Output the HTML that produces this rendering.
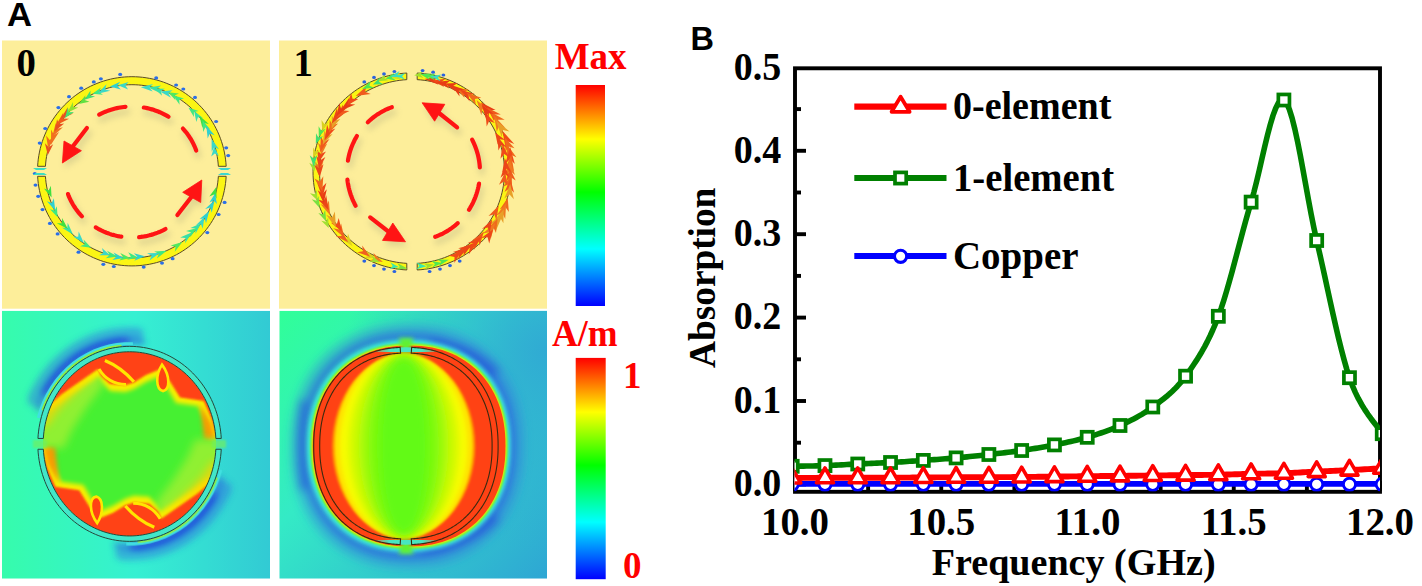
<!DOCTYPE html><html><head><meta charset="utf-8"><style>
html,body{margin:0;padding:0;background:#fff;width:1422px;height:586px;overflow:hidden}
svg{display:block}
.tk{font-family:"Liberation Serif",serif;font-weight:bold;font-size:39.5px;fill:#000}
.ti{font-family:"Liberation Serif",serif;font-weight:bold;font-size:38.5px;fill:#000}
.lg{font-family:"Liberation Serif",serif;font-weight:bold;font-size:39.5px;fill:#000}
.rd{font-family:"Liberation Serif",serif;font-weight:bold;font-size:37px;fill:#f00}
.bk{font-family:"Liberation Serif",serif;font-weight:bold;font-size:40px;fill:#000}
.lbl{font-family:"Liberation Sans",sans-serif;font-weight:bold;font-size:32.5px;fill:#000}
</style></head><body><svg width="1422" height="586" viewBox="0 0 1422 586"><defs><filter id="shb" x="-20%" y="-20%" width="140%" height="140%"><feGaussianBlur stdDeviation="3"/></filter><filter id="b05" x="-20%" y="-20%" width="140%" height="140%"><feGaussianBlur stdDeviation="0.6"/></filter><filter id="b1" x="-20%" y="-20%" width="140%" height="140%"><feGaussianBlur stdDeviation="1"/></filter><filter id="b2" x="-30%" y="-30%" width="160%" height="160%"><feGaussianBlur stdDeviation="2"/></filter><filter id="b3" x="-30%" y="-30%" width="160%" height="160%"><feGaussianBlur stdDeviation="3"/></filter><filter id="b4" x="-30%" y="-30%" width="160%" height="160%"><feGaussianBlur stdDeviation="4"/></filter><filter id="b8" x="-30%" y="-30%" width="160%" height="160%"><feGaussianBlur stdDeviation="8"/></filter><clipPath id="cTL"><rect x="2" y="40.5" width="268" height="268.2"/></clipPath><clipPath id="cTR"><rect x="279" y="40.5" width="268" height="268.2"/></clipPath><clipPath id="cBL"><rect x="2" y="310.7" width="268" height="268"/></clipPath><clipPath id="cBR"><rect x="279.5" y="310.7" width="267.5" height="268"/></clipPath></defs><rect x="2" y="40.5" width="268" height="268.2" fill="#fdee9a"/><rect x="279" y="40.5" width="268" height="268.2" fill="#fdee9a"/><path d="M226.17,166.30 L225.91,162.72 L225.52,159.15 L224.99,155.60 L224.33,152.07 L223.54,148.57 L222.61,145.11 L221.55,141.68 L220.37,138.29 L219.05,134.95 L217.61,131.66 L216.05,128.43 L214.37,125.26 L212.57,122.16 L210.65,119.13 L208.61,116.17 L206.47,113.30 L204.22,110.50 L201.87,107.80 L199.41,105.18 L196.86,102.66 L194.22,100.24 L191.48,97.92 L188.66,95.71 L185.76,93.61 L182.78,91.62 L179.73,89.74 L176.60,87.98 L173.42,86.34 L170.17,84.82 L166.87,83.43 L163.52,82.16 L160.12,81.03 L156.68,80.02 L153.21,79.14 L149.70,78.40 L146.17,77.79 L142.62,77.31 L139.06,76.97 L135.48,76.77 L131.90,76.70 L128.32,76.77 L124.74,76.97 L121.18,77.31 L117.63,77.79 L114.10,78.40 L110.59,79.14 L107.12,80.02 L103.68,81.03 L100.28,82.16 L96.93,83.43 L93.63,84.82 L90.38,86.34 L87.20,87.98 L84.07,89.74 L81.02,91.62 L78.04,93.61 L75.14,95.71 L72.32,97.92 L69.58,100.24 L66.94,102.66 L64.39,105.18 L61.93,107.80 L59.58,110.50 L57.33,113.30 L55.19,116.17 L53.15,119.13 L51.23,122.16 L49.43,125.26 L47.75,128.43 L46.19,131.66 L44.75,134.95 L43.43,138.29 L42.25,141.68 L41.19,145.11 L40.26,148.57 L39.47,152.07 L38.81,155.60 L38.28,159.15 L37.89,162.72 L37.63,166.30 L45.44,166.30 L45.70,163.03 L46.07,159.78 L46.57,156.54 L47.19,153.33 L47.93,150.14 L48.79,146.97 L49.77,143.85 L50.86,140.76 L52.08,137.72 L53.40,134.73 L54.84,131.78 L56.39,128.90 L58.05,126.07 L59.81,123.31 L61.68,120.62 L63.65,118.00 L65.71,115.46 L67.87,112.99 L70.12,110.61 L72.46,108.32 L74.88,106.12 L77.39,104.01 L79.97,102.00 L82.63,100.08 L85.36,98.27 L88.15,96.56 L91.01,94.96 L93.93,93.47 L96.90,92.09 L99.92,90.82 L102.98,89.67 L106.09,88.63 L109.24,87.72 L112.41,86.92 L115.62,86.24 L118.85,85.69 L122.09,85.26 L125.35,84.95 L128.63,84.76 L131.90,84.70 L135.17,84.76 L138.45,84.95 L141.71,85.26 L144.95,85.69 L148.18,86.24 L151.39,86.92 L154.56,87.72 L157.71,88.63 L160.82,89.67 L163.88,90.82 L166.90,92.09 L169.87,93.47 L172.79,94.96 L175.65,96.56 L178.44,98.27 L181.17,100.08 L183.83,102.00 L186.41,104.01 L188.92,106.12 L191.34,108.32 L193.68,110.61 L195.93,112.99 L198.09,115.46 L200.15,118.00 L202.12,120.62 L203.99,123.31 L205.75,126.07 L207.41,128.90 L208.96,131.78 L210.40,134.73 L211.72,137.72 L212.94,140.76 L214.03,143.85 L215.01,146.97 L215.87,150.14 L216.61,153.33 L217.23,156.54 L217.73,159.78 L218.10,163.03 L218.36,166.30Z" fill="#fbf514" stroke="#5a4a28" stroke-width="1"/><path d="M226.17,176.30 L225.91,179.88 L225.52,183.45 L224.99,187.00 L224.33,190.53 L223.54,194.03 L222.61,197.49 L221.55,200.92 L220.37,204.31 L219.05,207.65 L217.61,210.94 L216.05,214.17 L214.37,217.34 L212.57,220.44 L210.65,223.47 L208.61,226.43 L206.47,229.30 L204.22,232.10 L201.87,234.80 L199.41,237.42 L196.86,239.94 L194.22,242.36 L191.48,244.68 L188.66,246.89 L185.76,248.99 L182.78,250.98 L179.73,252.86 L176.60,254.62 L173.42,256.26 L170.17,257.78 L166.87,259.17 L163.52,260.44 L160.12,261.57 L156.68,262.58 L153.21,263.46 L149.70,264.20 L146.17,264.81 L142.62,265.29 L139.06,265.63 L135.48,265.83 L131.90,265.90 L128.32,265.83 L124.74,265.63 L121.18,265.29 L117.63,264.81 L114.10,264.20 L110.59,263.46 L107.12,262.58 L103.68,261.57 L100.28,260.44 L96.93,259.17 L93.63,257.78 L90.38,256.26 L87.20,254.62 L84.07,252.86 L81.02,250.98 L78.04,248.99 L75.14,246.89 L72.32,244.68 L69.58,242.36 L66.94,239.94 L64.39,237.42 L61.93,234.80 L59.58,232.10 L57.33,229.30 L55.19,226.43 L53.15,223.47 L51.23,220.44 L49.43,217.34 L47.75,214.17 L46.19,210.94 L44.75,207.65 L43.43,204.31 L42.25,200.92 L41.19,197.49 L40.26,194.03 L39.47,190.53 L38.81,187.00 L38.28,183.45 L37.89,179.88 L37.63,176.30 L45.44,176.30 L45.70,179.57 L46.07,182.82 L46.57,186.06 L47.19,189.27 L47.93,192.46 L48.79,195.63 L49.77,198.75 L50.86,201.84 L52.08,204.88 L53.40,207.87 L54.84,210.82 L56.39,213.70 L58.05,216.53 L59.81,219.29 L61.68,221.98 L63.65,224.60 L65.71,227.14 L67.87,229.61 L70.12,231.99 L72.46,234.28 L74.88,236.48 L77.39,238.59 L79.97,240.60 L82.63,242.52 L85.36,244.33 L88.15,246.04 L91.01,247.64 L93.93,249.13 L96.90,250.51 L99.92,251.78 L102.98,252.93 L106.09,253.97 L109.24,254.88 L112.41,255.68 L115.62,256.36 L118.85,256.91 L122.09,257.34 L125.35,257.65 L128.63,257.84 L131.90,257.90 L135.17,257.84 L138.45,257.65 L141.71,257.34 L144.95,256.91 L148.18,256.36 L151.39,255.68 L154.56,254.88 L157.71,253.97 L160.82,252.93 L163.88,251.78 L166.90,250.51 L169.87,249.13 L172.79,247.64 L175.65,246.04 L178.44,244.33 L181.17,242.52 L183.83,240.60 L186.41,238.59 L188.92,236.48 L191.34,234.28 L193.68,231.99 L195.93,229.61 L198.09,227.14 L200.15,224.60 L202.12,221.98 L203.99,219.29 L205.75,216.53 L207.41,213.70 L208.96,210.82 L210.40,207.87 L211.72,204.88 L212.94,201.84 L214.03,198.75 L215.01,195.63 L215.87,192.46 L216.61,189.27 L217.23,186.06 L217.73,182.82 L218.10,179.57 L218.36,176.30Z" fill="#fbf514" stroke="#5a4a28" stroke-width="1"/><path d="M47.8,155.0 L44.9,143.3 L48.7,147.2 L53.2,144.3 Z" fill="#e85020"/><path d="M48.3,149.0 L46.1,135.4 L49.7,139.9 L54.4,136.7 Z" fill="#f07020"/><path d="M51.0,144.8 L51.1,129.5 L53.9,134.9 L59.1,131.9 Z" fill="#f07020"/><path d="M52.2,137.0 L55.7,122.9 L57.2,128.7 L62.9,127.2 Z" fill="#f07020"/><path d="M54.5,131.4 L57.1,119.2 L58.8,124.3 L64.2,123.5 Z" fill="#e85020"/><path d="M55.9,125.6 L63.3,112.6 L63.1,118.6 L69.1,118.7 Z" fill="#f05a1a"/><path d="M60.6,118.9 L67.7,107.2 L67.5,112.9 L73.2,113.5 Z" fill="#e85020"/><path d="M65.0,118.1 L67.8,107.6 L69.2,112.3 L74.0,112.0 Z" fill="#40e070"/><path d="M67.3,112.7 L73.0,102.0 L73.1,107.1 L78.2,107.5 Z" fill="#90e030"/><path d="M78.7,103.9 L85.4,95.3 L84.8,100.1 L89.4,101.8 Z" fill="#60e040"/><path d="M84.5,99.8 L90.5,90.5 L90.3,95.4 L95.1,96.5 Z" fill="#40e070"/><path d="M92.5,93.7 L100.9,87.5 L99.1,91.9 L102.9,94.8 Z" fill="#40e880"/><path d="M97.5,93.7 L106.5,84.2 L105.1,89.4 L110.3,90.8 Z" fill="#3ad8c8"/><path d="M109.9,86.4 L120.2,81.8 L117.3,85.8 L120.8,89.4 Z" fill="#30d0d0"/><path d="M118.1,85.2 L128.6,82.0 L125.3,85.6 L128.1,89.6 Z" fill="#3ad8c8"/><path d="M140.9,87.3 L153.0,84.0 L149.3,87.6 L152.7,91.6 Z" fill="#3ad8c8"/><path d="M148.4,87.6 L161.2,85.6 L157.0,88.8 L160.1,93.1 Z" fill="#38e0a8"/><path d="M154.4,88.5 L164.9,88.8 L160.8,91.1 L162.0,95.8 Z" fill="#38e0a8"/><path d="M160.0,91.4 L172.6,90.3 L168.3,93.2 L171.0,97.7 Z" fill="#3ad8c8"/><path d="M168.2,92.2 L179.0,93.5 L174.5,95.4 L175.5,100.2 Z" fill="#50e860"/><path d="M173.0,95.3 L184.0,98.5 L179.2,99.7 L179.6,104.7 Z" fill="#40e880"/><path d="M188.5,107.7 L198.7,111.0 L193.9,112.1 L193.9,116.9 Z" fill="#40e880"/><path d="M194.2,111.0 L202.8,117.9 L197.9,117.3 L196.3,121.9 Z" fill="#38e0a8"/><path d="M199.4,115.7 L208.9,123.9 L203.8,122.9 L202.4,127.9 Z" fill="#40e040"/><path d="M202.4,120.3 L210.1,129.3 L205.3,127.5 L203.1,132.1 Z" fill="#40e880"/><path d="M206.3,125.8 L214.7,135.3 L209.7,133.5 L207.7,138.4 Z" fill="#30d0d0"/><path d="M211.6,138.9 L219.0,149.3 L214.2,147.0 L211.7,151.7 Z" fill="#3ad8c8"/><path d="M214.3,146.6 L218.8,156.1 L214.8,153.5 L211.2,156.6 Z" fill="#3ad8c8"/><path d="M216.3,186.9 L216.6,198.7 L214.0,194.4 L209.3,196.5 Z" fill="#40e040"/><path d="M215.1,193.6 L216.9,204.1 L213.7,200.4 L209.4,202.6 Z" fill="#30d0d0"/><path d="M214.6,200.2 L211.7,212.7 L210.3,207.6 L205.1,208.9 Z" fill="#30d0d0"/><path d="M209.2,211.1 L206.0,223.2 L204.7,218.2 L199.6,219.1 Z" fill="#30d0d0"/><path d="M204.4,217.0 L202.7,228.7 L200.9,224.0 L195.9,225.3 Z" fill="#3ad8c8"/><path d="M201.1,223.2 L195.6,233.6 L195.4,228.5 L190.4,228.0 Z" fill="#38e0a8"/><path d="M197.0,228.0 L190.2,237.2 L190.8,232.3 L186.0,231.0 Z" fill="#40e880"/><path d="M192.1,232.2 L185.1,243.3 L185.5,238.0 L180.1,237.6 Z" fill="#38e0a8"/><path d="M182.4,242.1 L174.8,251.8 L175.6,246.7 L170.6,245.4 Z" fill="#50e860"/><path d="M166.7,250.7 L156.9,258.6 L158.9,253.8 L154.1,251.6 Z" fill="#40e880"/><path d="M159.8,252.9 L149.5,260.4 L151.7,255.6 L147.0,253.2 Z" fill="#3ad8c8"/><path d="M144.9,256.2 L134.3,260.8 L137.3,256.7 L133.8,253.2 Z" fill="#30d0d0"/><path d="M138.1,257.5 L127.2,259.8 L130.8,256.5 L128.2,252.3 Z" fill="#40e880"/><path d="M130.2,258.0 L119.4,260.5 L122.9,257.1 L120.3,253.0 Z" fill="#50e860"/><path d="M123.6,258.0 L112.4,260.0 L116.2,256.8 L113.6,252.5 Z" fill="#30d0d0"/><path d="M117.7,256.5 L105.7,258.3 L109.8,255.1 L107.0,250.8 Z" fill="#40e880"/><path d="M110.1,255.3 L99.2,255.2 L103.4,252.7 L101.9,248.1 Z" fill="#3ad8c8"/><path d="M91.2,247.8 L80.1,246.3 L84.7,244.3 L83.6,239.5 Z" fill="#40e880"/><path d="M83.8,243.1 L73.0,236.5 L78.2,236.7 L78.7,231.5 Z" fill="#3ad8c8"/><path d="M73.0,234.5 L62.0,227.7 L67.3,228.0 L67.7,222.7 Z" fill="#38e0a8"/><path d="M67.9,229.1 L56.8,223.3 L62.0,223.2 L62.1,218.0 Z" fill="#40e040"/><path d="M57.6,217.3 L50.0,209.3 L54.7,210.6 L56.9,206.3 Z" fill="#40e880"/><path d="M55.3,210.7 L46.9,201.3 L51.8,203.0 L53.8,198.2 Z" fill="#30d0d0"/><path d="M51.6,197.4 L43.9,188.5 L48.7,190.2 L50.9,185.7 Z" fill="#40e040"/><ellipse cx="34.8" cy="173.5" rx="2" ry="1.6" fill="#2a6ee8"/><ellipse cx="39.7" cy="143.1" rx="2" ry="1.6" fill="#2a6ee8"/><ellipse cx="45.2" cy="128.5" rx="2" ry="1.6" fill="#2a6ee8"/><ellipse cx="58.4" cy="107.6" rx="2" ry="1.6" fill="#2a6ee8"/><ellipse cx="69.0" cy="96.7" rx="2" ry="1.6" fill="#2a6ee8"/><ellipse cx="81.2" cy="88.2" rx="2" ry="1.6" fill="#2a6ee8"/><ellipse cx="93.8" cy="81.9" rx="2" ry="1.6" fill="#2a6ee8"/><ellipse cx="100.9" cy="78.8" rx="2" ry="1.6" fill="#2a6ee8"/><ellipse cx="120.2" cy="74.4" rx="2" ry="1.6" fill="#2a6ee8"/><ellipse cx="156.2" cy="77.9" rx="2" ry="1.6" fill="#2a6ee8"/><ellipse cx="176.1" cy="85.0" rx="2" ry="1.6" fill="#2a6ee8"/><ellipse cx="183.3" cy="89.0" rx="2" ry="1.6" fill="#2a6ee8"/><ellipse cx="195.0" cy="97.4" rx="2" ry="1.6" fill="#2a6ee8"/><ellipse cx="216.1" cy="121.5" rx="2" ry="1.6" fill="#2a6ee8"/><ellipse cx="226.2" cy="147.8" rx="2" ry="1.6" fill="#2a6ee8"/><ellipse cx="228.2" cy="155.6" rx="2" ry="1.6" fill="#2a6ee8"/><ellipse cx="224.6" cy="202.4" rx="2" ry="1.6" fill="#2a6ee8"/><ellipse cx="218.6" cy="214.5" rx="2" ry="1.6" fill="#2a6ee8"/><ellipse cx="207.3" cy="232.6" rx="2" ry="1.6" fill="#2a6ee8"/><ellipse cx="172.6" cy="258.7" rx="2" ry="1.6" fill="#2a6ee8"/><ellipse cx="162.0" cy="263.1" rx="2" ry="1.6" fill="#2a6ee8"/><ellipse cx="143.7" cy="267.1" rx="2" ry="1.6" fill="#2a6ee8"/><ellipse cx="113.8" cy="266.5" rx="2" ry="1.6" fill="#2a6ee8"/><ellipse cx="103.3" cy="264.3" rx="2" ry="1.6" fill="#2a6ee8"/><ellipse cx="78.5" cy="252.2" rx="2" ry="1.6" fill="#2a6ee8"/><ellipse cx="57.6" cy="233.9" rx="2" ry="1.6" fill="#2a6ee8"/><ellipse cx="49.9" cy="223.4" rx="2" ry="1.6" fill="#2a6ee8"/><ellipse cx="42.5" cy="209.6" rx="2" ry="1.6" fill="#2a6ee8"/><ellipse cx="38.2" cy="196.3" rx="2" ry="1.6" fill="#2a6ee8"/><ellipse cx="35.5" cy="185.1" rx="2" ry="1.6" fill="#2a6ee8"/><path d="M33,168 L47,168 L44,170 L36,170Z M33,175 L47,175 L44,173 L36,173Z" fill="#3ce0c0"/><path d="M218,168 L231,168 L228,170 L221,170Z M218,175 L231,175 L228,173 L221,173Z" fill="#3cd8d0"/><g filter="url(#shb)" opacity="0.3" transform="translate(2,5)"><path d="M99.14,114.66 L100.67,113.87 L102.22,113.12 L103.79,112.40 L105.38,111.73 L106.98,111.09 L108.60,110.50 L110.24,109.94 L111.89,109.43 L113.56,108.96 L115.23,108.52 L116.92,108.13 L118.62,107.78 L120.32,107.47 L122.04,107.21 L123.76,106.98 L125.48,106.80 M143.81,107.50 L145.45,107.79 L147.08,108.13 L148.70,108.51 L150.32,108.92 L151.92,109.37 L153.51,109.86 L155.08,110.39 L156.65,110.95 L158.19,111.55 L159.73,112.19 L161.24,112.87 L162.74,113.57 L164.22,114.32 L165.68,115.10 L167.12,115.91 L168.54,116.76 M182.93,128.60 L184.01,129.80 L185.06,131.04 L186.08,132.29 L187.07,133.57 L188.02,134.87 L188.94,136.19 L189.83,137.54 L190.68,138.90 L191.50,140.29 L192.28,141.69 L193.03,143.11 L193.74,144.55 L194.42,146.01 L195.05,147.48 L195.65,148.96 L196.22,150.46 M81.95,216.34 L80.81,215.12 L79.71,213.87 L78.64,212.60 L77.60,211.30 L76.60,209.98 L75.63,208.64 L74.70,207.27 L73.80,205.88 L72.94,204.47 L72.12,203.04 L71.33,201.59 L70.59,200.12 L69.88,198.63 L69.20,197.13 L68.57,195.61 L67.98,194.08 M121.36,236.69 L119.67,236.41 L117.98,236.09 L116.30,235.73 L114.63,235.33 L112.97,234.88 L111.33,234.40 L109.69,233.88 L108.07,233.31 L106.47,232.71 L104.89,232.07 L103.32,231.39 L101.76,230.67 L100.23,229.91 L98.72,229.12 L97.23,228.29 L95.76,227.43 M165.48,229.01 L163.96,229.82 L162.41,230.59 L160.84,231.32 L159.25,232.01 L157.65,232.66 L156.02,233.28 L154.38,233.85 L152.73,234.38 L151.06,234.87 L149.38,235.32 L147.69,235.73 L145.99,236.10 L144.28,236.42 L142.56,236.70 L140.84,236.94 L139.11,237.14 M86.90,128.00 L70.64,149.28 M177.40,215.00 L193.72,193.92" fill="none" stroke="#9a9a78" stroke-width="6.2" stroke-linecap="round"/><path d="M62.40,163.00 L64.00,141.00 L81.40,150.70 Z M201.80,180.00 L182.70,192.30 L200.70,202.50 Z" fill="#9a9a78"/></g><path d="M99.14,114.66 L100.67,113.87 L102.22,113.12 L103.79,112.40 L105.38,111.73 L106.98,111.09 L108.60,110.50 L110.24,109.94 L111.89,109.43 L113.56,108.96 L115.23,108.52 L116.92,108.13 L118.62,107.78 L120.32,107.47 L122.04,107.21 L123.76,106.98 L125.48,106.80 M143.81,107.50 L145.45,107.79 L147.08,108.13 L148.70,108.51 L150.32,108.92 L151.92,109.37 L153.51,109.86 L155.08,110.39 L156.65,110.95 L158.19,111.55 L159.73,112.19 L161.24,112.87 L162.74,113.57 L164.22,114.32 L165.68,115.10 L167.12,115.91 L168.54,116.76 M182.93,128.60 L184.01,129.80 L185.06,131.04 L186.08,132.29 L187.07,133.57 L188.02,134.87 L188.94,136.19 L189.83,137.54 L190.68,138.90 L191.50,140.29 L192.28,141.69 L193.03,143.11 L193.74,144.55 L194.42,146.01 L195.05,147.48 L195.65,148.96 L196.22,150.46 M81.95,216.34 L80.81,215.12 L79.71,213.87 L78.64,212.60 L77.60,211.30 L76.60,209.98 L75.63,208.64 L74.70,207.27 L73.80,205.88 L72.94,204.47 L72.12,203.04 L71.33,201.59 L70.59,200.12 L69.88,198.63 L69.20,197.13 L68.57,195.61 L67.98,194.08 M121.36,236.69 L119.67,236.41 L117.98,236.09 L116.30,235.73 L114.63,235.33 L112.97,234.88 L111.33,234.40 L109.69,233.88 L108.07,233.31 L106.47,232.71 L104.89,232.07 L103.32,231.39 L101.76,230.67 L100.23,229.91 L98.72,229.12 L97.23,228.29 L95.76,227.43 M165.48,229.01 L163.96,229.82 L162.41,230.59 L160.84,231.32 L159.25,232.01 L157.65,232.66 L156.02,233.28 L154.38,233.85 L152.73,234.38 L151.06,234.87 L149.38,235.32 L147.69,235.73 L145.99,236.10 L144.28,236.42 L142.56,236.70 L140.84,236.94 L139.11,237.14 M86.90,128.00 L70.64,149.28 M177.40,215.00 L193.72,193.92" fill="none" stroke="#ff1414" stroke-width="4.2" stroke-linecap="round"/><path d="M62.40,163.00 L64.00,141.00 L81.40,150.70 Z M201.80,180.00 L182.70,192.30 L200.70,202.50 Z" fill="#ff1414" stroke="#ff1414" stroke-width="0.8" stroke-linejoin="round"/><path d="M406.80,73.04 L403.05,73.30 L399.32,73.71 L395.60,74.26 L391.91,74.95 L388.24,75.78 L384.61,76.75 L381.02,77.85 L377.48,79.09 L373.98,80.46 L370.54,81.96 L367.16,83.59 L363.84,85.35 L360.59,87.23 L357.42,89.24 L354.33,91.36 L351.31,93.60 L348.39,95.95 L345.56,98.41 L342.82,100.97 L340.18,103.64 L337.65,106.40 L335.22,109.26 L332.90,112.20 L330.70,115.23 L328.62,118.35 L326.65,121.54 L324.81,124.80 L323.09,128.13 L321.50,131.52 L320.05,134.97 L318.72,138.47 L317.53,142.02 L316.47,145.61 L315.56,149.24 L314.78,152.90 L314.14,156.59 L313.64,160.30 L313.29,164.02 L313.07,167.76 L313.00,171.50 L313.07,175.24 L313.29,178.98 L313.64,182.70 L314.14,186.41 L314.78,190.10 L315.56,193.76 L316.47,197.39 L317.53,200.98 L318.72,204.53 L320.05,208.03 L321.50,211.48 L323.09,214.87 L324.81,218.20 L326.65,221.46 L328.62,224.65 L330.70,227.77 L332.90,230.80 L335.22,233.74 L337.65,236.60 L340.18,239.36 L342.82,242.03 L345.56,244.59 L348.39,247.05 L351.31,249.40 L354.33,251.64 L357.42,253.76 L360.59,255.77 L363.84,257.65 L367.16,259.41 L370.54,261.04 L373.98,262.54 L377.48,263.91 L381.02,265.15 L384.61,266.25 L388.24,267.22 L391.91,268.05 L395.60,268.74 L399.32,269.29 L403.05,269.70 L406.80,269.96 L406.80,263.35 L403.31,263.09 L399.83,262.70 L396.37,262.18 L392.93,261.52 L389.51,260.74 L386.13,259.83 L382.79,258.79 L379.49,257.63 L376.23,256.34 L373.03,254.94 L369.88,253.41 L366.79,251.77 L363.77,250.01 L360.82,248.13 L357.94,246.15 L355.14,244.06 L352.41,241.87 L349.78,239.58 L347.23,237.18 L344.78,234.70 L342.42,232.12 L340.16,229.46 L338.01,226.71 L335.96,223.89 L334.02,220.99 L332.19,218.02 L330.48,214.98 L328.89,211.88 L327.41,208.72 L326.05,205.51 L324.82,202.25 L323.71,198.94 L322.73,195.60 L321.88,192.22 L321.15,188.81 L320.56,185.38 L320.10,181.93 L319.77,178.46 L319.57,174.98 L319.50,171.50 L319.57,168.02 L319.77,164.54 L320.10,161.07 L320.56,157.62 L321.15,154.19 L321.88,150.78 L322.73,147.40 L323.71,144.06 L324.82,140.75 L326.05,137.49 L327.41,134.28 L328.89,131.12 L330.48,128.02 L332.19,124.98 L334.02,122.01 L335.96,119.11 L338.01,116.29 L340.16,113.54 L342.42,110.88 L344.78,108.30 L347.23,105.82 L349.78,103.42 L352.41,101.13 L355.14,98.94 L357.94,96.85 L360.82,94.87 L363.77,92.99 L366.79,91.23 L369.88,89.59 L373.03,88.06 L376.23,86.66 L379.49,85.37 L382.79,84.21 L386.13,83.17 L389.51,82.26 L392.93,81.48 L396.37,80.82 L399.83,80.30 L403.31,79.91 L406.80,79.65Z" fill="#fbf514" stroke="#5a4a28" stroke-width="1"/><path d="M417.20,73.04 L420.95,73.30 L424.68,73.71 L428.40,74.26 L432.09,74.95 L435.76,75.78 L439.39,76.75 L442.98,77.85 L446.52,79.09 L450.02,80.46 L453.46,81.96 L456.84,83.59 L460.16,85.35 L463.41,87.23 L466.58,89.24 L469.67,91.36 L472.69,93.60 L475.61,95.95 L478.44,98.41 L481.18,100.97 L483.82,103.64 L486.35,106.40 L488.78,109.26 L491.10,112.20 L493.30,115.23 L495.38,118.35 L497.35,121.54 L499.19,124.80 L500.91,128.13 L502.50,131.52 L503.95,134.97 L505.28,138.47 L506.47,142.02 L507.53,145.61 L508.44,149.24 L509.22,152.90 L509.86,156.59 L510.36,160.30 L510.71,164.02 L510.93,167.76 L511.00,171.50 L510.93,175.24 L510.71,178.98 L510.36,182.70 L509.86,186.41 L509.22,190.10 L508.44,193.76 L507.53,197.39 L506.47,200.98 L505.28,204.53 L503.95,208.03 L502.50,211.48 L500.91,214.87 L499.19,218.20 L497.35,221.46 L495.38,224.65 L493.30,227.77 L491.10,230.80 L488.78,233.74 L486.35,236.60 L483.82,239.36 L481.18,242.03 L478.44,244.59 L475.61,247.05 L472.69,249.40 L469.67,251.64 L466.58,253.76 L463.41,255.77 L460.16,257.65 L456.84,259.41 L453.46,261.04 L450.02,262.54 L446.52,263.91 L442.98,265.15 L439.39,266.25 L435.76,267.22 L432.09,268.05 L428.40,268.74 L424.68,269.29 L420.95,269.70 L417.20,269.96 L417.20,263.35 L420.69,263.09 L424.17,262.70 L427.63,262.18 L431.07,261.52 L434.49,260.74 L437.87,259.83 L441.21,258.79 L444.51,257.63 L447.77,256.34 L450.97,254.94 L454.12,253.41 L457.21,251.77 L460.23,250.01 L463.18,248.13 L466.06,246.15 L468.86,244.06 L471.59,241.87 L474.22,239.58 L476.77,237.18 L479.22,234.70 L481.58,232.12 L483.84,229.46 L485.99,226.71 L488.04,223.89 L489.98,220.99 L491.81,218.02 L493.52,214.98 L495.11,211.88 L496.59,208.72 L497.95,205.51 L499.18,202.25 L500.29,198.94 L501.27,195.60 L502.12,192.22 L502.85,188.81 L503.44,185.38 L503.90,181.93 L504.23,178.46 L504.43,174.98 L504.50,171.50 L504.43,168.02 L504.23,164.54 L503.90,161.07 L503.44,157.62 L502.85,154.19 L502.12,150.78 L501.27,147.40 L500.29,144.06 L499.18,140.75 L497.95,137.49 L496.59,134.28 L495.11,131.12 L493.52,128.02 L491.81,124.98 L489.98,122.01 L488.04,119.11 L485.99,116.29 L483.84,113.54 L481.58,110.88 L479.22,108.30 L476.77,105.82 L474.22,103.42 L471.59,101.13 L468.86,98.94 L466.06,96.85 L463.18,94.87 L460.23,92.99 L457.21,91.23 L454.12,89.59 L450.97,88.06 L447.77,86.66 L444.51,85.37 L441.21,84.21 L437.87,83.17 L434.49,82.26 L431.07,81.48 L427.63,80.82 L424.17,80.30 L420.69,79.91 L417.20,79.65Z" fill="#fbf514" stroke="#5a4a28" stroke-width="1"/><path d="M318.6,175.4 L314.2,161.2 L318.8,165.5 L323.4,161.4 Z" fill="#f07a20"/><path d="M319.1,169.0 L316.3,155.8 L320.3,160.2 L325.4,157.1 Z" fill="#ec4618"/><path d="M318.7,162.2 L317.1,149.4 L320.7,154.0 L326.0,151.6 Z" fill="#ec4618"/><path d="M321.4,155.1 L318.0,142.7 L322.2,146.8 L327.2,143.6 Z" fill="#f07a20"/><path d="M320.2,151.9 L320.8,136.1 L323.7,141.9 L329.5,139.1 Z" fill="#f05a1c"/><path d="M322.7,144.8 L324.3,130.2 L326.7,135.9 L332.6,134.0 Z" fill="#e8a028"/><path d="M324.5,140.6 L327.1,124.4 L329.2,130.7 L335.4,128.4 Z" fill="#f04a18"/><path d="M329.0,132.7 L329.7,119.7 L332.4,124.9 L338.1,123.4 Z" fill="#f06a1c"/><path d="M331.7,128.4 L331.8,115.5 L334.7,120.6 L340.3,118.9 Z" fill="#e8a028"/><path d="M331.5,123.7 L336.9,108.0 L338.0,114.5 L344.5,113.2 Z" fill="#ec4618"/><path d="M336.9,117.3 L342.8,104.6 L343.4,110.6 L349.4,111.0 Z" fill="#f05a1c"/><path d="M314.2,171.8 L309.3,162.8 L313.4,165.2 L316.8,161.9 Z" fill="#a0e030"/><path d="M313.8,166.8 L309.7,155.2 L313.6,158.6 L317.3,155.0 Z" fill="#40e070"/><path d="M313.1,157.6 L313.2,147.5 L315.6,151.5 L320.2,150.4 Z" fill="#d8d020"/><path d="M315.8,143.7 L316.0,133.3 L318.4,137.4 L323.0,136.2 Z" fill="#40e070"/><path d="M318.8,137.2 L318.6,126.2 L321.1,130.4 L325.8,128.7 Z" fill="#50e850"/><path d="M322.3,131.2 L321.5,120.0 L324.3,124.0 L328.8,122.0 Z" fill="#d8d020"/><path d="M336.4,116.3 L339.3,103.2 L341.1,108.8 L347.0,108.1 Z" fill="#e83c14"/><path d="M340.1,111.0 L349.4,97.4 L348.6,103.9 L355.2,104.5 Z" fill="#e83c14"/><path d="M347.1,105.4 L351.2,93.1 L352.5,98.8 L358.3,98.9 Z" fill="#f04a18"/><path d="M355.7,95.9 L366.9,85.7 L364.9,91.7 L370.7,94.1 Z" fill="#f05a1c"/><path d="M362.1,88.9 L371.0,80.8 L369.4,85.7 L374.1,87.7 Z" fill="#50e850"/><path d="M372.8,84.4 L380.2,77.2 L379.0,81.8 L383.1,84.2 Z" fill="#40e070"/><path d="M378.3,81.3 L385.3,73.5 L384.4,78.2 L388.8,80.2 Z" fill="#a0e030"/><path d="M385.4,78.6 L394.3,73.0 L392.1,77.2 L395.7,80.4 Z" fill="#50e850"/><path d="M391.6,78.2 L399.9,72.3 L398.1,76.6 L401.7,79.6 Z" fill="#d0e020"/><path d="M390.3,76.7 L399.6,71.1 L397.4,75.0 L401.2,77.3 Z" fill="#3ae0c0"/><path d="M395.4,75.9 L405.2,73.2 L402.1,76.3 L404.8,79.6 Z" fill="#3ae0c0"/><path d="M344.3,237.5 L333.2,228.2 L339.3,229.4 L341.1,223.5 Z" fill="#f06a1c"/><path d="M342.1,231.7 L331.0,222.8 L337.0,223.8 L338.7,217.9 Z" fill="#f04a18"/><path d="M335.9,227.8 L326.2,214.7 L332.1,217.6 L334.9,211.6 Z" fill="#e8a028"/><path d="M330.1,215.2 L320.4,204.0 L326.3,206.2 L328.9,200.5 Z" fill="#f07a20"/><path d="M328.8,210.6 L318.0,199.5 L324.1,201.3 L326.2,195.3 Z" fill="#ec4618"/><path d="M323.7,203.2 L317.7,190.3 L322.7,193.8 L326.8,189.3 Z" fill="#e83c14"/><path d="M322.4,197.6 L317.2,183.1 L322.0,187.3 L326.4,182.8 Z" fill="#ec4618"/><path d="M322.3,191.4 L314.4,178.4 L319.9,181.5 L323.3,176.2 Z" fill="#f06a1c"/><path d="M319.8,177.0 L314.3,164.9 L319.2,168.3 L323.5,164.2 Z" fill="#ec4618"/><path d="M328.7,228.1 L321.3,220.7 L325.9,221.8 L328.2,217.6 Z" fill="#a0e030"/><path d="M326.2,221.4 L318.3,212.9 L323.1,214.4 L325.2,209.8 Z" fill="#7ae040"/><path d="M319.7,208.1 L311.7,199.2 L316.5,200.8 L318.6,196.1 Z" fill="#7ae040"/><path d="M317.6,200.5 L309.9,193.3 L314.6,194.3 L316.8,190.0 Z" fill="#a0e030"/><path d="M382.9,262.1 L369.8,260.6 L375.0,258.4 L373.4,253.0 Z" fill="#f07a20"/><path d="M375.5,258.0 L363.7,258.5 L368.2,255.5 L366.3,250.5 Z" fill="#e0d020"/><path d="M370.2,256.8 L357.2,252.3 L362.9,251.3 L362.2,245.5 Z" fill="#f06020"/><path d="M352.5,246.3 L341.4,239.0 L347.0,239.4 L348.0,233.8 Z" fill="#e0d020"/><path d="M348.3,242.3 L335.8,236.3 L341.6,236.0 L341.5,230.2 Z" fill="#f06020"/><path d="M407.4,268.5 L396.0,269.7 L399.8,267.0 L397.3,263.0 Z" fill="#7ae040"/><path d="M398.7,267.0 L389.6,269.1 L392.7,266.1 L390.5,262.4 Z" fill="#38e8b0"/><path d="M380.1,262.2 L369.4,261.7 L373.4,259.7 L371.8,255.4 Z" fill="#a0e030"/><path d="M448.8,259.8 L438.8,266.0 L441.2,261.8 L437.1,259.4 Z" fill="#50e850"/><path d="M442.3,262.9 L432.2,267.6 L435.0,263.9 L431.4,260.9 Z" fill="#50e850"/><path d="M434.1,264.4 L424.8,269.8 L427.1,265.9 L423.4,263.2 Z" fill="#a0e030"/><path d="M426.6,266.3 L416.2,269.2 L419.4,266.0 L416.5,262.5 Z" fill="#38e8b0"/><path d="M484.0,231.6 L479.6,245.8 L478.3,239.7 L472.1,240.5 Z" fill="#f05a1c"/><path d="M481.6,236.6 L474.1,249.8 L474.2,243.5 L467.9,243.0 Z" fill="#f04a18"/><path d="M478.6,241.1 L468.7,254.6 L469.7,248.0 L463.1,247.3 Z" fill="#f04a18"/><path d="M472.1,244.4 L463.4,255.9 L464.2,249.8 L458.2,248.3 Z" fill="#ec4618"/><path d="M468.3,247.2 L458.0,259.5 L459.3,253.2 L452.9,251.9 Z" fill="#ec4618"/><path d="M461.5,251.1 L454.4,262.9 L454.5,256.9 L448.5,255.8 Z" fill="#f04a18"/><path d="M480.7,102.2 L495.6,109.9 L488.8,110.0 L488.9,116.8 Z" fill="#e83c14"/><path d="M486.7,107.2 L500.8,114.4 L494.2,114.6 L494.1,121.2 Z" fill="#f05a1c"/><path d="M490.4,111.9 L504.7,119.7 L498.0,119.7 L497.9,126.4 Z" fill="#f06a1c"/><path d="M494.2,116.0 L505.4,127.9 L499.0,125.8 L496.8,132.1 Z" fill="#f07a20"/><path d="M496.0,120.5 L509.6,131.5 L502.8,130.1 L501.7,137.0 Z" fill="#e8a028"/><path d="M502.4,130.7 L514.3,144.0 L507.7,141.5 L505.7,148.3 Z" fill="#f04a18"/><path d="M505.1,137.8 L514.5,148.3 L508.5,146.4 L505.6,151.8 Z" fill="#f06a1c"/><path d="M506.9,144.1 L516.4,157.3 L510.4,154.4 L507.3,160.4 Z" fill="#f06a1c"/><path d="M510.2,146.9 L514.8,164.1 L510.0,158.9 L505.2,164.0 Z" fill="#f04a18"/><path d="M511.3,154.8 L514.1,171.7 L509.9,166.2 L504.5,170.6 Z" fill="#f06a1c"/><path d="M509.9,160.1 L514.9,175.1 L510.1,170.7 L505.3,175.3 Z" fill="#f07a20"/><path d="M509.5,167.8 L515.7,180.6 L510.5,177.1 L506.1,181.6 Z" fill="#f05a1c"/><path d="M511.7,174.2 L512.1,189.8 L508.8,184.1 L502.9,187.0 Z" fill="#f06a1c"/><path d="M510.4,178.8 L514.1,192.8 L509.6,188.3 L504.5,192.0 Z" fill="#f05a1c"/><path d="M510.2,184.1 L513.9,199.2 L509.5,194.5 L504.4,198.6 Z" fill="#e8a028"/><path d="M507.7,198.0 L508.9,211.9 L505.3,206.9 L499.7,209.4 Z" fill="#f06a1c"/><path d="M506.2,202.8 L505.2,219.0 L502.4,212.9 L496.3,215.6 Z" fill="#f07a20"/><path d="M503.7,209.2 L503.4,223.3 L500.4,217.9 L494.5,219.9 Z" fill="#e8a028"/><path d="M503.0,214.3 L496.1,230.3 L495.5,223.3 L488.6,224.2 Z" fill="#e8a028"/><path d="M497.6,218.8 L496.0,233.1 L493.4,227.4 L487.3,228.9 Z" fill="#f06a1c"/><path d="M495.2,223.0 L490.8,238.7 L489.3,232.2 L482.7,233.5 Z" fill="#f07a20"/><path d="M493.0,229.4 L489.2,243.4 L487.6,237.3 L481.3,237.9 Z" fill="#ec4618"/><path d="M485.4,112.2 L494.8,122.9 L489.1,120.9 L486.7,126.4 Z" fill="#f04a18"/><path d="M495.1,132.4 L505.2,140.0 L499.6,139.3 L497.7,144.7 Z" fill="#ec4618"/><path d="M497.5,136.7 L506.5,147.2 L501.0,145.2 L498.4,150.5 Z" fill="#ec4618"/><path d="M502.6,144.0 L509.2,157.4 L504.2,153.9 L500.5,158.8 Z" fill="#f04a18"/><path d="M504.8,157.9 L510.9,172.1 L506.0,168.2 L502.1,173.1 Z" fill="#ec4618"/><path d="M504.9,165.5 L509.3,177.7 L504.9,174.0 L500.5,177.7 Z" fill="#ec4618"/><path d="M505.2,172.2 L507.7,185.9 L503.9,181.4 L499.0,184.7 Z" fill="#f05a1c"/><path d="M498.8,205.6 L496.3,219.9 L494.3,214.2 L488.5,215.9 Z" fill="#f05a1c"/><path d="M492.2,219.5 L489.7,233.1 L487.8,227.6 L482.0,228.9 Z" fill="#ec4618"/><path d="M455.8,87.7 L468.9,89.8 L463.4,91.9 L464.4,97.8 Z" fill="#f06a1c"/><path d="M459.9,89.6 L474.7,93.9 L468.5,95.3 L469.7,101.6 Z" fill="#ec4618"/><path d="M466.4,92.7 L481.3,97.8 L474.9,98.9 L475.9,105.3 Z" fill="#f06a1c"/><path d="M476.6,100.1 L488.9,110.2 L482.5,109.0 L481.3,115.3 Z" fill="#f07a20"/><path d="M481.6,104.4 L493.7,114.1 L487.4,113.0 L486.1,119.2 Z" fill="#e83c14"/><path d="M424.4,78.9 L439.6,76.3 L434.7,80.0 L438.7,84.7 Z" fill="#e83c14"/><path d="M432.3,80.5 L445.6,78.8 L441.0,82.2 L444.0,87.0 Z" fill="#f04a18"/><path d="M436.5,82.1 L450.7,80.2 L446.0,83.7 L449.3,88.5 Z" fill="#e83c14"/><path d="M444.7,83.5 L457.8,83.1 L453.0,86.0 L455.3,91.2 Z" fill="#e83c14"/><path d="M451.1,85.1 L464.5,89.6 L458.8,90.6 L459.6,96.4 Z" fill="#e83c14"/><path d="M414.2,75.3 L422.8,71.2 L420.4,74.8 L423.4,78.0 Z" fill="#a0e030"/><path d="M419.9,74.0 L431.7,73.4 L427.6,75.9 L430.0,80.0 Z" fill="#50e850"/><path d="M425.2,75.7 L435.7,73.5 L432.3,76.5 L434.9,80.3 Z" fill="#50e850"/><path d="M430.3,76.2 L441.6,74.6 L437.8,77.4 L440.5,81.3 Z" fill="#3ae0c0"/><ellipse cx="364.3" cy="81.9" rx="1.9" ry="1.6" fill="#2a62e0"/><ellipse cx="374.0" cy="77.4" rx="1.9" ry="1.6" fill="#2a62e0"/><ellipse cx="384.0" cy="73.9" rx="1.9" ry="1.6" fill="#2a62e0"/><ellipse cx="394.4" cy="71.5" rx="1.9" ry="1.6" fill="#2a62e0"/><ellipse cx="422.6" cy="70.6" rx="1.9" ry="1.6" fill="#2a62e0"/><ellipse cx="433.1" cy="72.2" rx="1.9" ry="1.6" fill="#2a62e0"/><ellipse cx="443.4" cy="75.0" rx="1.9" ry="1.6" fill="#2a62e0"/><ellipse cx="394.4" cy="271.5" rx="1.9" ry="1.6" fill="#2a62e0"/><ellipse cx="384.0" cy="269.1" rx="1.9" ry="1.6" fill="#2a62e0"/><ellipse cx="374.0" cy="265.6" rx="1.9" ry="1.6" fill="#2a62e0"/><ellipse cx="364.3" cy="261.1" rx="1.9" ry="1.6" fill="#2a62e0"/><ellipse cx="459.7" cy="261.1" rx="1.9" ry="1.6" fill="#2a62e0"/><ellipse cx="450.0" cy="265.6" rx="1.9" ry="1.6" fill="#2a62e0"/><ellipse cx="440.0" cy="269.1" rx="1.9" ry="1.6" fill="#2a62e0"/><ellipse cx="429.6" cy="271.5" rx="1.9" ry="1.6" fill="#2a62e0"/><g filter="url(#shb)" opacity="0.3" transform="translate(2,5)"><path d="M367.81,122.23 L369.11,120.99 L370.44,119.80 L371.81,118.63 L373.20,117.51 L374.62,116.42 L376.07,115.38 L377.55,114.37 L379.05,113.41 L380.58,112.48 L382.13,111.60 L383.70,110.76 L385.29,109.97 L386.90,109.22 L388.53,108.51 L390.18,107.85 L391.85,107.23 M347.93,160.58 L348.22,158.95 L348.54,157.33 L348.90,155.73 L349.30,154.13 L349.74,152.54 L350.21,150.96 L350.73,149.40 L351.27,147.84 L351.86,146.30 L352.48,144.78 L353.13,143.27 L353.82,141.78 L354.54,140.31 L355.30,138.86 L356.10,137.42 L356.92,136.01 M355.62,205.73 L354.81,204.22 L354.05,202.68 L353.31,201.13 L352.62,199.56 L351.97,197.97 L351.35,196.37 L350.77,194.75 L350.24,193.11 L349.74,191.46 L349.28,189.80 L348.87,188.13 L348.50,186.45 L348.16,184.75 L347.87,183.06 L347.62,181.35 L347.41,179.64 M457.74,223.14 L456.49,224.26 L455.23,225.34 L453.93,226.39 L452.61,227.40 L451.27,228.38 L449.90,229.33 L448.51,230.24 L447.10,231.11 L445.67,231.95 L444.22,232.75 L442.75,233.52 L441.26,234.25 L439.76,234.93 L438.24,235.58 L436.70,236.20 L435.15,236.77 M479.05,183.54 L478.74,185.29 L478.38,187.03 L477.98,188.76 L477.53,190.48 L477.05,192.18 L476.52,193.88 L475.94,195.55 L475.33,197.22 L474.67,198.86 L473.98,200.49 L473.24,202.10 L472.46,203.68 L471.64,205.25 L470.78,206.79 L469.89,208.31 L468.95,209.81 M472.11,139.63 L472.92,141.24 L473.69,142.87 L474.42,144.53 L475.10,146.20 L475.75,147.89 L476.34,149.60 L476.90,151.32 L477.41,153.06 L477.87,154.81 L478.29,156.58 L478.67,158.35 L478.99,160.13 L479.28,161.93 L479.51,163.73 L479.70,165.53 L479.85,167.34 M370.20,217.40 L391.22,233.72 M457.10,127.40 L436.18,110.76" fill="none" stroke="#9a9a78" stroke-width="6.2" stroke-linecap="round"/><path d="M405.50,241.80 L392.80,223.00 L382.50,240.40 Z M422.10,102.80 L444.80,104.30 L434.60,121.20 Z" fill="#9a9a78"/></g><path d="M367.81,122.23 L369.11,120.99 L370.44,119.80 L371.81,118.63 L373.20,117.51 L374.62,116.42 L376.07,115.38 L377.55,114.37 L379.05,113.41 L380.58,112.48 L382.13,111.60 L383.70,110.76 L385.29,109.97 L386.90,109.22 L388.53,108.51 L390.18,107.85 L391.85,107.23 M347.93,160.58 L348.22,158.95 L348.54,157.33 L348.90,155.73 L349.30,154.13 L349.74,152.54 L350.21,150.96 L350.73,149.40 L351.27,147.84 L351.86,146.30 L352.48,144.78 L353.13,143.27 L353.82,141.78 L354.54,140.31 L355.30,138.86 L356.10,137.42 L356.92,136.01 M355.62,205.73 L354.81,204.22 L354.05,202.68 L353.31,201.13 L352.62,199.56 L351.97,197.97 L351.35,196.37 L350.77,194.75 L350.24,193.11 L349.74,191.46 L349.28,189.80 L348.87,188.13 L348.50,186.45 L348.16,184.75 L347.87,183.06 L347.62,181.35 L347.41,179.64 M457.74,223.14 L456.49,224.26 L455.23,225.34 L453.93,226.39 L452.61,227.40 L451.27,228.38 L449.90,229.33 L448.51,230.24 L447.10,231.11 L445.67,231.95 L444.22,232.75 L442.75,233.52 L441.26,234.25 L439.76,234.93 L438.24,235.58 L436.70,236.20 L435.15,236.77 M479.05,183.54 L478.74,185.29 L478.38,187.03 L477.98,188.76 L477.53,190.48 L477.05,192.18 L476.52,193.88 L475.94,195.55 L475.33,197.22 L474.67,198.86 L473.98,200.49 L473.24,202.10 L472.46,203.68 L471.64,205.25 L470.78,206.79 L469.89,208.31 L468.95,209.81 M472.11,139.63 L472.92,141.24 L473.69,142.87 L474.42,144.53 L475.10,146.20 L475.75,147.89 L476.34,149.60 L476.90,151.32 L477.41,153.06 L477.87,154.81 L478.29,156.58 L478.67,158.35 L478.99,160.13 L479.28,161.93 L479.51,163.73 L479.70,165.53 L479.85,167.34 M370.20,217.40 L391.22,233.72 M457.10,127.40 L436.18,110.76" fill="none" stroke="#ff1414" stroke-width="4.2" stroke-linecap="round"/><path d="M405.50,241.80 L392.80,223.00 L382.50,240.40 Z M422.10,102.80 L444.80,104.30 L434.60,121.20 Z" fill="#ff1414" stroke="#ff1414" stroke-width="0.8" stroke-linejoin="round"/><defs><linearGradient id="gBL" x1="0" y1="0" x2="1" y2="0"><stop offset="0" stop-color="#36fcac"/><stop offset="0.5" stop-color="#36f0d2"/><stop offset="1" stop-color="#32cad4"/></linearGradient><clipPath id="inBL"><ellipse cx="129.60" cy="443.85" rx="86.4" ry="92.1"/></clipPath></defs><g clip-path="url(#cBL)"><rect x="2" y="310.7" width="268" height="268" fill="url(#gBL)"/><g filter="url(#b3)"><path d="M34.59,399.31 L38.09,391.81 L42.13,384.61 L46.68,377.76 L51.71,371.29 L57.19,365.25 L63.10,359.66 L69.39,354.57 L76.04,349.99 L82.99,345.96 L90.22,342.50 L97.68,339.64 L105.32,337.38 L113.11,335.74 L120.99,334.73 L128.92,334.35 L136.85,334.62" fill="none" stroke="#2a64e0" stroke-width="14" opacity="0.45" stroke-linecap="round"/><path d="M45.16,392.35 L48.41,386.81 L51.99,381.50 L55.88,376.45 L60.06,371.66 L64.52,367.16 L69.24,362.96 L74.20,359.09 L79.38,355.56 L84.77,352.38 L90.33,349.57 L96.05,347.14 L101.91,345.09 L107.87,343.44 L113.93,342.19 L120.04,341.35 L126.20,340.91" fill="none" stroke="#2040dc" stroke-width="7" stroke-linecap="round"/><path d="M38.45,408.79 L38.89,407.54 L39.35,406.28 L39.82,405.04 L40.31,403.80 L40.81,402.57 L41.33,401.34 L41.87,400.13 L42.42,398.92 L42.98,397.71 L43.56,396.52 L44.15,395.33 L44.76,394.16 L45.38,392.99 L46.02,391.83 L46.67,390.68 L47.34,389.53" fill="none" stroke="#2a50dc" stroke-width="5" opacity="0.6" stroke-linecap="round"/><path d="M122.83,341.60 L124.10,341.51 L125.37,341.45 L126.64,341.40 L127.91,341.37 L129.18,341.35 L130.45,341.35 L131.72,341.37 L132.99,341.41 L134.25,341.47 L135.52,341.54 L136.79,341.63 L138.05,341.74 L139.32,341.87 L140.58,342.01 L141.84,342.17 L143.10,342.35" fill="none" stroke="#2a50dc" stroke-width="5" opacity="0.6" stroke-linecap="round"/><g transform="rotate(180 129.60 443.85)"><path d="M34.59,399.31 L38.09,391.81 L42.13,384.61 L46.68,377.76 L51.71,371.29 L57.19,365.25 L63.10,359.66 L69.39,354.57 L76.04,349.99 L82.99,345.96 L90.22,342.50 L97.68,339.64 L105.32,337.38 L113.11,335.74 L120.99,334.73 L128.92,334.35 L136.85,334.62" fill="none" stroke="#2a64e0" stroke-width="14" opacity="0.45" stroke-linecap="round"/><path d="M45.16,392.35 L48.41,386.81 L51.99,381.50 L55.88,376.45 L60.06,371.66 L64.52,367.16 L69.24,362.96 L74.20,359.09 L79.38,355.56 L84.77,352.38 L90.33,349.57 L96.05,347.14 L101.91,345.09 L107.87,343.44 L113.93,342.19 L120.04,341.35 L126.20,340.91" fill="none" stroke="#2040dc" stroke-width="7" stroke-linecap="round"/><path d="M38.45,408.79 L38.89,407.54 L39.35,406.28 L39.82,405.04 L40.31,403.80 L40.81,402.57 L41.33,401.34 L41.87,400.13 L42.42,398.92 L42.98,397.71 L43.56,396.52 L44.15,395.33 L44.76,394.16 L45.38,392.99 L46.02,391.83 L46.67,390.68 L47.34,389.53" fill="none" stroke="#2a50dc" stroke-width="5" opacity="0.6" stroke-linecap="round"/><path d="M122.83,341.60 L124.10,341.51 L125.37,341.45 L126.64,341.40 L127.91,341.37 L129.18,341.35 L130.45,341.35 L131.72,341.37 L132.99,341.41 L134.25,341.47 L135.52,341.54 L136.79,341.63 L138.05,341.74 L139.32,341.87 L140.58,342.01 L141.84,342.17 L143.10,342.35" fill="none" stroke="#2a50dc" stroke-width="5" opacity="0.6" stroke-linecap="round"/></g></g><g filter="url(#b05)"><path d="M38.32,417.92 L40.69,409.89 L43.69,402.10 L47.30,394.60 L51.49,387.46 L56.22,380.71 L61.48,374.40 L67.21,368.59 L73.39,363.30 L79.96,358.59 L86.88,354.47 L94.10,350.99 L101.58,348.16 L109.25,346.00 L117.06,344.54 L124.96,343.77 L132.90,343.71" fill="none" stroke="#40e0e0" stroke-width="3"/><path d="M42.21,410.09 L44.68,403.61 L47.58,397.32 L50.89,391.27 L54.60,385.49 L58.68,380.00 L63.13,374.82 L67.90,370.00 L72.99,365.55 L78.35,361.49 L83.98,357.84 L89.84,354.63 L95.89,351.86 L102.12,349.56 L108.48,347.73 L114.95,346.38 L121.49,345.53" fill="none" stroke="#90f040" stroke-width="1.8"/><g transform="rotate(180 129.60 443.85)"><path d="M38.32,417.92 L40.69,409.89 L43.69,402.10 L47.30,394.60 L51.49,387.46 L56.22,380.71 L61.48,374.40 L67.21,368.59 L73.39,363.30 L79.96,358.59 L86.88,354.47 L94.10,350.99 L101.58,348.16 L109.25,346.00 L117.06,344.54 L124.96,343.77 L132.90,343.71" fill="none" stroke="#40e0e0" stroke-width="3"/><path d="M42.21,410.09 L44.68,403.61 L47.58,397.32 L50.89,391.27 L54.60,385.49 L58.68,380.00 L63.13,374.82 L67.90,370.00 L72.99,365.55 L78.35,361.49 L83.98,357.84 L89.84,354.63 L95.89,351.86 L102.12,349.56 L108.48,347.73 L114.95,346.38 L121.49,345.53" fill="none" stroke="#90f040" stroke-width="1.8"/></g></g><g clip-path="url(#inBL)"><rect x="40" y="350" width="180" height="190" fill="#46f032"/><path d="M36.0,448.0 L64.0,448.0 L72.0,430.0 L86.0,408.0 L104.0,384.0 L98.0,369.0 L54.5,396.2 L36.0,400.0Z" fill="#90f030" filter="url(#b4)"/><path d="M30.0,412.0 L52.0,409.0 L66.0,398.0 L99.0,376.0 L103.0,383.0 L110.0,391.0 L125.3,392.0 L134.0,389.0 L146.0,382.0 L158.0,377.0 L166.0,386.0 L176.0,403.0 L198.0,406.0 L205.0,420.0 L210.0,440.0 L240.0,440.0 L240.0,340.0 L30.0,340.0Z" fill="#f8f000" filter="url(#b2)"/><path d="M36.0,430.0 L48.0,425.0 L58.0,410.0 L80.0,388.0 L98.0,372.0 L54.5,396.2 L36.0,400.0Z" fill="#ffd000" opacity="0.7" filter="url(#b4)"/><path d="M30.0,406.0 L50.0,404.0 L62.0,394.0 L98.0,368.9 L101.0,376.0 L110.0,384.0 L125.3,385.3 L133.9,382.5 L146.0,375.0 L159.5,369.5 L169.7,381.0 L180.0,397.5 L203.8,401.0 L212.0,420.0 L217.0,438.0 L240.0,438.0 L240.0,340.0 L30.0,340.0Z" fill="#ff4214" filter="url(#b1)"/><path d="M104.9,360.4 Q121,367 133.9,381.7" fill="none" stroke="#ffe600" stroke-width="3.2"/><path d="M99,369 Q108,384 126,384.5" fill="none" stroke="#ffe600" stroke-width="3"/><path d="M162,364.6 C155.5,375 155.5,389 162.9,391.1 C170,390 170.5,376 162,364.6 Z" fill="#ff4214" stroke="#ffe600" stroke-width="2.6"/><path d="M200,404 L212,424 L216,440 L204,440 Z" fill="#ff9000" opacity="0.85" filter="url(#b2)"/><g transform="rotate(180 129.60 443.85)"><path d="M36.0,448.0 L64.0,448.0 L72.0,430.0 L86.0,408.0 L104.0,384.0 L98.0,369.0 L54.5,396.2 L36.0,400.0Z" fill="#90f030" filter="url(#b4)"/><path d="M30.0,412.0 L52.0,409.0 L66.0,398.0 L99.0,376.0 L103.0,383.0 L110.0,391.0 L125.3,392.0 L134.0,389.0 L146.0,382.0 L158.0,377.0 L166.0,386.0 L176.0,403.0 L198.0,406.0 L205.0,420.0 L210.0,440.0 L240.0,440.0 L240.0,340.0 L30.0,340.0Z" fill="#f8f000" filter="url(#b2)"/><path d="M36.0,430.0 L48.0,425.0 L58.0,410.0 L80.0,388.0 L98.0,372.0 L54.5,396.2 L36.0,400.0Z" fill="#ffd000" opacity="0.7" filter="url(#b4)"/><path d="M30.0,406.0 L50.0,404.0 L62.0,394.0 L98.0,368.9 L101.0,376.0 L110.0,384.0 L125.3,385.3 L133.9,382.5 L146.0,375.0 L159.5,369.5 L169.7,381.0 L180.0,397.5 L203.8,401.0 L212.0,420.0 L217.0,438.0 L240.0,438.0 L240.0,340.0 L30.0,340.0Z" fill="#ff4214" filter="url(#b1)"/><path d="M104.9,360.4 Q121,367 133.9,381.7" fill="none" stroke="#ffe600" stroke-width="3.2"/><path d="M99,369 Q108,384 126,384.5" fill="none" stroke="#ffe600" stroke-width="3"/><path d="M162,364.6 C155.5,375 155.5,389 162.9,391.1 C170,390 170.5,376 162,364.6 Z" fill="#ff4214" stroke="#ffe600" stroke-width="2.6"/><path d="M200,404 L212,424 L216,440 L204,440 Z" fill="#ff9000" opacity="0.85" filter="url(#b2)"/></g></g><g filter="url(#b1)" opacity="0.7"><rect x="33" y="440" width="14" height="8" fill="#70f060"/><rect x="212" y="440" width="14" height="8" fill="#70f060"/></g><path d="M221.26,438.45 L221.00,434.77 L220.61,431.10 L220.09,427.44 L219.44,423.82 L218.66,420.22 L217.76,416.65 L216.72,413.12 L215.56,409.64 L214.28,406.21 L212.88,402.83 L211.36,399.51 L209.72,396.25 L207.96,393.06 L206.09,389.95 L204.12,386.91 L202.03,383.95 L199.84,381.08 L197.56,378.30 L195.17,375.61 L192.69,373.02 L190.12,370.54 L187.46,368.15 L184.72,365.88 L181.90,363.72 L179.00,361.67 L176.04,359.75 L173.01,357.94 L169.91,356.25 L166.76,354.69 L163.55,353.26 L160.30,351.96 L157.00,350.79 L153.66,349.76 L150.29,348.86 L146.89,348.09 L143.46,347.47 L140.01,346.98 L136.55,346.63 L133.08,346.42 L129.60,346.35 L126.12,346.42 L122.65,346.63 L119.19,346.98 L115.74,347.47 L112.31,348.09 L108.91,348.86 L105.54,349.76 L102.20,350.79 L98.90,351.96 L95.65,353.26 L92.44,354.69 L89.29,356.25 L86.19,357.94 L83.16,359.75 L80.20,361.67 L77.30,363.72 L74.48,365.88 L71.74,368.15 L69.08,370.54 L66.51,373.02 L64.03,375.61 L61.64,378.30 L59.36,381.08 L57.17,383.95 L55.08,386.91 L53.11,389.95 L51.24,393.06 L49.48,396.25 L47.84,399.51 L46.32,402.83 L44.92,406.21 L43.64,409.64 L42.48,413.12 L41.44,416.65 L40.54,420.22 L39.76,423.82 L39.11,427.44 L38.59,431.10 L38.20,434.77 L37.94,438.45 L43.35,438.45 L43.60,434.98 L43.98,431.52 L44.48,428.08 L45.10,424.66 L45.84,421.27 L46.70,417.91 L47.68,414.59 L48.77,411.31 L49.98,408.08 L51.31,404.90 L52.75,401.77 L54.29,398.70 L55.95,395.70 L57.71,392.77 L59.57,389.91 L61.53,387.13 L63.59,384.42 L65.75,381.81 L67.99,379.28 L70.32,376.84 L72.74,374.50 L75.24,372.26 L77.82,370.12 L80.47,368.09 L83.19,366.16 L85.98,364.35 L88.83,362.65 L91.74,361.07 L94.70,359.60 L97.71,358.25 L100.77,357.03 L103.87,355.93 L107.00,354.96 L110.17,354.11 L113.37,353.39 L116.58,352.80 L119.82,352.34 L123.07,352.01 L126.33,351.82 L129.60,351.75 L132.87,351.82 L136.13,352.01 L139.38,352.34 L142.62,352.80 L145.83,353.39 L149.03,354.11 L152.20,354.96 L155.33,355.93 L158.43,357.03 L161.49,358.25 L164.50,359.60 L167.46,361.07 L170.37,362.65 L173.22,364.35 L176.01,366.16 L178.73,368.09 L181.38,370.12 L183.96,372.26 L186.46,374.50 L188.88,376.84 L191.21,379.28 L193.45,381.81 L195.61,384.42 L197.67,387.13 L199.63,389.91 L201.49,392.77 L203.25,395.70 L204.91,398.70 L206.45,401.77 L207.89,404.90 L209.22,408.08 L210.43,411.31 L211.52,414.59 L212.50,417.91 L213.36,421.27 L214.10,424.66 L214.72,428.08 L215.22,431.52 L215.60,434.98 L215.85,438.45Z" fill="#42e6c8" stroke="#26463a" stroke-width="1"/><path d="M221.26,449.25 L221.00,452.93 L220.61,456.60 L220.09,460.26 L219.44,463.88 L218.66,467.48 L217.76,471.05 L216.72,474.58 L215.56,478.06 L214.28,481.49 L212.88,484.87 L211.36,488.19 L209.72,491.45 L207.96,494.64 L206.09,497.75 L204.12,500.79 L202.03,503.75 L199.84,506.62 L197.56,509.40 L195.17,512.09 L192.69,514.68 L190.12,517.16 L187.46,519.55 L184.72,521.82 L181.90,523.98 L179.00,526.03 L176.04,527.95 L173.01,529.76 L169.91,531.45 L166.76,533.01 L163.55,534.44 L160.30,535.74 L157.00,536.91 L153.66,537.94 L150.29,538.84 L146.89,539.61 L143.46,540.23 L140.01,540.72 L136.55,541.07 L133.08,541.28 L129.60,541.35 L126.12,541.28 L122.65,541.07 L119.19,540.72 L115.74,540.23 L112.31,539.61 L108.91,538.84 L105.54,537.94 L102.20,536.91 L98.90,535.74 L95.65,534.44 L92.44,533.01 L89.29,531.45 L86.19,529.76 L83.16,527.95 L80.20,526.03 L77.30,523.98 L74.48,521.82 L71.74,519.55 L69.08,517.16 L66.51,514.68 L64.03,512.09 L61.64,509.40 L59.36,506.62 L57.17,503.75 L55.08,500.79 L53.11,497.75 L51.24,494.64 L49.48,491.45 L47.84,488.19 L46.32,484.87 L44.92,481.49 L43.64,478.06 L42.48,474.58 L41.44,471.05 L40.54,467.48 L39.76,463.88 L39.11,460.26 L38.59,456.60 L38.20,452.93 L37.94,449.25 L43.35,449.25 L43.60,452.72 L43.98,456.18 L44.48,459.62 L45.10,463.04 L45.84,466.43 L46.70,469.79 L47.68,473.11 L48.77,476.39 L49.98,479.62 L51.31,482.80 L52.75,485.93 L54.29,489.00 L55.95,492.00 L57.71,494.93 L59.57,497.79 L61.53,500.57 L63.59,503.28 L65.75,505.89 L67.99,508.42 L70.32,510.86 L72.74,513.20 L75.24,515.44 L77.82,517.58 L80.47,519.61 L83.19,521.54 L85.98,523.35 L88.83,525.05 L91.74,526.63 L94.70,528.10 L97.71,529.45 L100.77,530.67 L103.87,531.77 L107.00,532.74 L110.17,533.59 L113.37,534.31 L116.58,534.90 L119.82,535.36 L123.07,535.69 L126.33,535.88 L129.60,535.95 L132.87,535.88 L136.13,535.69 L139.38,535.36 L142.62,534.90 L145.83,534.31 L149.03,533.59 L152.20,532.74 L155.33,531.77 L158.43,530.67 L161.49,529.45 L164.50,528.10 L167.46,526.63 L170.37,525.05 L173.22,523.35 L176.01,521.54 L178.73,519.61 L181.38,517.58 L183.96,515.44 L186.46,513.20 L188.88,510.86 L191.21,508.42 L193.45,505.89 L195.61,503.28 L197.67,500.57 L199.63,497.79 L201.49,494.93 L203.25,492.00 L204.91,489.00 L206.45,485.93 L207.89,482.80 L209.22,479.62 L210.43,476.39 L211.52,473.11 L212.50,469.79 L213.36,466.43 L214.10,463.04 L214.72,459.62 L215.22,456.18 L215.60,452.72 L215.85,449.25Z" fill="#42e6c8" stroke="#26463a" stroke-width="1"/></g><defs><linearGradient id="gBR" x1="0" y1="0" x2="1" y2="1"><stop offset="0" stop-color="#30ff98"/><stop offset="0.4" stop-color="#34eac6"/><stop offset="1" stop-color="#2ea6d4"/></linearGradient><radialGradient id="gBR2" cx="1" cy="0.15" r="0.75"><stop offset="0" stop-color="#30a8d4" stop-opacity="0.95"/><stop offset="1" stop-color="#30a8d4" stop-opacity="0"/></radialGradient><clipPath id="bandBR"><path d="M498.10,446.00 L497.99,452.75 L497.64,458.67 L497.07,464.28 L496.27,469.67 L495.24,474.89 L493.99,479.94 L492.52,484.83 L490.82,489.57 L488.92,494.14 L486.80,498.56 L484.47,502.81 L481.94,506.89 L479.21,510.78 L476.29,514.50 L473.18,518.03 L469.89,521.35 L466.42,524.48 L462.78,527.40 L458.97,530.11 L455.00,532.60 L450.87,534.87 L446.60,536.91 L442.17,538.72 L437.60,540.30 L432.88,541.64 L428.01,542.74 L422.97,543.59 L417.73,544.21 L412.21,544.58 L405.90,544.70 L399.59,544.58 L394.07,544.21 L388.83,543.59 L383.79,542.74 L378.92,541.64 L374.20,540.30 L369.63,538.72 L365.20,536.91 L360.93,534.87 L356.80,532.60 L352.83,530.11 L349.02,527.40 L345.38,524.48 L341.91,521.35 L338.62,518.03 L335.51,514.50 L332.59,510.78 L329.86,506.89 L327.33,502.81 L325.00,498.56 L322.88,494.14 L320.98,489.57 L319.28,484.83 L317.81,479.94 L316.56,474.89 L315.53,469.67 L314.73,464.28 L314.16,458.67 L313.81,452.75 L313.70,446.00 L313.81,439.25 L314.16,433.33 L314.73,427.72 L315.53,422.33 L316.56,417.11 L317.81,412.06 L319.28,407.17 L320.98,402.43 L322.88,397.86 L325.00,393.44 L327.33,389.19 L329.86,385.11 L332.59,381.22 L335.51,377.50 L338.62,373.97 L341.91,370.65 L345.38,367.52 L349.02,364.60 L352.83,361.89 L356.80,359.40 L360.93,357.13 L365.20,355.09 L369.63,353.28 L374.20,351.70 L378.92,350.36 L383.79,349.26 L388.83,348.41 L394.07,347.79 L399.59,347.42 L405.90,347.30 L412.21,347.42 L417.73,347.79 L422.97,348.41 L428.01,349.26 L432.88,350.36 L437.60,351.70 L442.17,353.28 L446.60,355.09 L450.87,357.13 L455.00,359.40 L458.97,361.89 L462.78,364.60 L466.42,367.52 L469.89,370.65 L473.18,373.97 L476.29,377.50 L479.21,381.22 L481.94,385.11 L484.47,389.19 L486.80,393.44 L488.92,397.86 L490.82,402.43 L492.52,407.17 L493.99,412.06 L495.24,417.11 L496.27,422.33 L497.07,427.72 L497.64,433.33 L497.99,439.25Z"/></clipPath></defs><g clip-path="url(#cBR)"><rect x="279" y="310.7" width="268" height="268" fill="url(#gBR)"/><rect x="279" y="310.7" width="268" height="268" fill="url(#gBR2)"/><g filter="url(#b4)"><path d="M510.60,446.00 L510.47,453.44 L510.09,459.95 L509.44,466.13 L508.55,472.07 L507.40,477.81 L506.00,483.37 L504.35,488.76 L502.46,493.98 L500.32,499.02 L497.95,503.88 L495.35,508.56 L492.51,513.05 L489.46,517.35 L486.19,521.44 L482.71,525.32 L479.02,528.99 L475.14,532.43 L471.06,535.65 L466.80,538.63 L462.36,541.38 L457.74,543.87 L452.95,546.12 L448.00,548.12 L442.88,549.85 L437.60,551.33 L432.15,552.54 L426.51,553.48 L420.65,554.16 L414.46,554.56 L407.40,554.70 L400.34,554.56 L394.15,554.16 L388.29,553.48 L382.65,552.54 L377.20,551.33 L371.92,549.85 L366.80,548.12 L361.85,546.12 L357.06,543.87 L352.44,541.38 L348.00,538.63 L343.74,535.65 L339.66,532.43 L335.78,528.99 L332.09,525.32 L328.61,521.44 L325.34,517.35 L322.29,513.05 L319.45,508.56 L316.85,503.88 L314.48,499.02 L312.34,493.98 L310.45,488.76 L308.80,483.37 L307.40,477.81 L306.25,472.07 L305.36,466.13 L304.71,459.95 L304.33,453.44 L304.20,446.00 L304.33,438.56 L304.71,432.05 L305.36,425.87 L306.25,419.93 L307.40,414.19 L308.80,408.63 L310.45,403.24 L312.34,398.02 L314.48,392.98 L316.85,388.12 L319.45,383.44 L322.29,378.95 L325.34,374.65 L328.61,370.56 L332.09,366.68 L335.78,363.01 L339.66,359.57 L343.74,356.35 L348.00,353.37 L352.44,350.62 L357.06,348.13 L361.85,345.88 L366.80,343.88 L371.92,342.15 L377.20,340.67 L382.65,339.46 L388.29,338.52 L394.15,337.84 L400.34,337.44 L407.40,337.30 L414.46,337.44 L420.65,337.84 L426.51,338.52 L432.15,339.46 L437.60,340.67 L442.88,342.15 L448.00,343.88 L452.95,345.88 L457.74,348.13 L462.36,350.62 L466.80,353.37 L471.06,356.35 L475.14,359.57 L479.02,363.01 L482.71,366.68 L486.19,370.56 L489.46,374.65 L492.51,378.95 L495.35,383.44 L497.95,388.12 L500.32,392.98 L502.46,398.02 L504.35,403.24 L506.00,408.63 L507.40,414.19 L508.55,419.93 L509.44,425.87 L510.09,432.05 L510.47,438.56Z" fill="none" stroke="#2c5ae0" stroke-width="8" opacity="0.85"/><path d="M519.60,446.00 L519.46,454.05 L519.04,461.11 L518.34,467.79 L517.37,474.23 L516.12,480.45 L514.60,486.47 L512.80,492.30 L510.75,497.95 L508.43,503.41 L505.85,508.68 L503.02,513.74 L499.94,518.61 L496.62,523.26 L493.06,527.69 L489.28,531.89 L485.27,535.86 L481.05,539.59 L476.61,543.07 L471.98,546.30 L467.15,549.27 L462.13,551.98 L456.92,554.41 L451.54,556.57 L445.98,558.45 L440.24,560.05 L434.31,561.36 L428.18,562.38 L421.80,563.11 L415.08,563.55 L407.40,563.70 L399.72,563.55 L393.00,563.11 L386.62,562.38 L380.49,561.36 L374.56,560.05 L368.82,558.45 L363.26,556.57 L357.88,554.41 L352.67,551.98 L347.65,549.27 L342.82,546.30 L338.19,543.07 L333.75,539.59 L329.53,535.86 L325.52,531.89 L321.74,527.69 L318.18,523.26 L314.86,518.61 L311.78,513.74 L308.95,508.68 L306.37,503.41 L304.05,497.95 L302.00,492.30 L300.20,486.47 L298.68,480.45 L297.43,474.23 L296.46,467.79 L295.76,461.11 L295.34,454.05 L295.20,446.00 L295.34,437.95 L295.76,430.89 L296.46,424.21 L297.43,417.77 L298.68,411.55 L300.20,405.53 L302.00,399.70 L304.05,394.05 L306.37,388.59 L308.95,383.32 L311.78,378.26 L314.86,373.39 L318.18,368.74 L321.74,364.31 L325.52,360.11 L329.53,356.14 L333.75,352.41 L338.19,348.93 L342.82,345.70 L347.65,342.73 L352.67,340.02 L357.88,337.59 L363.26,335.43 L368.82,333.55 L374.56,331.95 L380.49,330.64 L386.62,329.62 L393.00,328.89 L399.72,328.45 L407.40,328.30 L415.08,328.45 L421.80,328.89 L428.18,329.62 L434.31,330.64 L440.24,331.95 L445.98,333.55 L451.54,335.43 L456.92,337.59 L462.13,340.02 L467.15,342.73 L471.98,345.70 L476.61,348.93 L481.05,352.41 L485.27,356.14 L489.28,360.11 L493.06,364.31 L496.62,368.74 L499.94,373.39 L503.02,378.26 L505.85,383.32 L508.43,388.59 L510.75,394.05 L512.80,399.70 L514.60,405.53 L516.12,411.55 L517.37,417.77 L518.34,424.21 L519.04,430.89 L519.46,437.95Z" fill="none" stroke="#3070e0" stroke-width="10" opacity="0.35"/><path d="M430,338 Q470,340 500,370 L492,378 Q465,352 430,348Z" fill="#2a50d8" opacity="0.6"/><path d="M420,552 Q470,552 500,520 L492,512 Q465,540 420,544Z" fill="#2a50d8" opacity="0.6"/><path d="M300,400 Q294,446 300,490 L306,490 Q300,446 306,400Z" fill="#2a50d8" opacity="0.6"/></g><path d="M510.30,446.00 L510.17,453.20 L509.80,459.50 L509.17,465.48 L508.29,471.23 L507.16,476.79 L505.79,482.17 L504.17,487.39 L502.31,492.44 L500.22,497.31 L497.90,502.02 L495.34,506.55 L492.57,510.90 L489.57,515.05 L486.36,519.01 L482.95,522.77 L479.34,526.32 L475.53,529.65 L471.53,532.76 L467.35,535.65 L462.99,538.31 L458.46,540.72 L453.77,542.90 L448.91,544.83 L443.90,546.51 L438.72,547.94 L433.37,549.11 L427.84,550.02 L422.09,550.68 L416.03,551.07 L409.10,551.20 L402.17,551.07 L396.11,550.68 L390.36,550.02 L384.83,549.11 L379.48,547.94 L374.30,546.51 L369.29,544.83 L364.43,542.90 L359.74,540.72 L355.21,538.31 L350.85,535.65 L346.67,532.76 L342.67,529.65 L338.86,526.32 L335.25,522.77 L331.84,519.01 L328.63,515.05 L325.63,510.90 L322.86,506.55 L320.30,502.02 L317.98,497.31 L315.89,492.44 L314.03,487.39 L312.41,482.17 L311.04,476.79 L309.91,471.23 L309.03,465.48 L308.40,459.50 L308.03,453.20 L307.90,446.00 L308.03,438.80 L308.40,432.50 L309.03,426.52 L309.91,420.77 L311.04,415.21 L312.41,409.83 L314.03,404.61 L315.89,399.56 L317.98,394.69 L320.30,389.98 L322.86,385.45 L325.63,381.10 L328.63,376.95 L331.84,372.99 L335.25,369.23 L338.86,365.68 L342.67,362.35 L346.67,359.24 L350.85,356.35 L355.21,353.69 L359.74,351.28 L364.43,349.10 L369.29,347.17 L374.30,345.49 L379.48,344.06 L384.83,342.89 L390.36,341.98 L396.11,341.32 L402.17,340.93 L409.10,340.80 L416.03,340.93 L422.09,341.32 L427.84,341.98 L433.37,342.89 L438.72,344.06 L443.90,345.49 L448.91,347.17 L453.77,349.10 L458.46,351.28 L462.99,353.69 L467.35,356.35 L471.53,359.24 L475.53,362.35 L479.34,365.68 L482.95,369.23 L486.36,372.99 L489.57,376.95 L492.57,381.10 L495.34,385.45 L497.90,389.98 L500.22,394.69 L502.31,399.56 L504.17,404.61 L505.79,409.83 L507.16,415.21 L508.29,420.77 L509.17,426.52 L509.80,432.50 L510.17,438.80Z" fill="#40f0dc" filter="url(#b2)"/><path d="M507.80,446.00 L507.68,453.03 L507.31,459.18 L506.69,465.02 L505.84,470.63 L504.74,476.06 L503.40,481.31 L501.82,486.40 L500.01,491.33 L497.97,496.10 L495.70,500.69 L493.21,505.11 L490.50,509.35 L487.58,513.41 L484.45,517.28 L481.13,520.94 L477.60,524.41 L473.88,527.66 L469.99,530.70 L465.91,533.52 L461.66,536.11 L457.24,538.47 L452.67,540.60 L447.93,542.48 L443.04,544.12 L437.99,545.51 L432.77,546.66 L427.38,547.55 L421.77,548.19 L415.85,548.57 L409.10,548.70 L402.35,548.57 L396.43,548.19 L390.82,547.55 L385.43,546.66 L380.21,545.51 L375.16,544.12 L370.27,542.48 L365.53,540.60 L360.96,538.47 L356.54,536.11 L352.29,533.52 L348.21,530.70 L344.32,527.66 L340.60,524.41 L337.07,520.94 L333.75,517.28 L330.62,513.41 L327.70,509.35 L324.99,505.11 L322.50,500.69 L320.23,496.10 L318.19,491.33 L316.38,486.40 L314.80,481.31 L313.46,476.06 L312.36,470.63 L311.51,465.02 L310.89,459.18 L310.52,453.03 L310.40,446.00 L310.52,438.97 L310.89,432.82 L311.51,426.98 L312.36,421.37 L313.46,415.94 L314.80,410.69 L316.38,405.60 L318.19,400.67 L320.23,395.90 L322.50,391.31 L324.99,386.89 L327.70,382.65 L330.62,378.59 L333.75,374.72 L337.07,371.06 L340.60,367.59 L344.32,364.34 L348.21,361.30 L352.29,358.48 L356.54,355.89 L360.96,353.53 L365.53,351.40 L370.27,349.52 L375.16,347.88 L380.21,346.49 L385.43,345.34 L390.82,344.45 L396.43,343.81 L402.35,343.43 L409.10,343.30 L415.85,343.43 L421.77,343.81 L427.38,344.45 L432.77,345.34 L437.99,346.49 L443.04,347.88 L447.93,349.52 L452.67,351.40 L457.24,353.53 L461.66,355.89 L465.91,358.48 L469.99,361.30 L473.88,364.34 L477.60,367.59 L481.13,371.06 L484.45,374.72 L487.58,378.59 L490.50,382.65 L493.21,386.89 L495.70,391.31 L497.97,395.90 L500.01,400.67 L501.82,405.60 L503.40,410.69 L504.74,415.94 L505.84,421.37 L506.69,426.98 L507.31,432.82 L507.68,438.97Z" fill="#48f040" filter="url(#b1)"/><path d="M506.50,446.00 L506.38,452.94 L506.01,459.01 L505.41,464.78 L504.56,470.32 L503.48,475.68 L502.16,480.86 L500.60,485.89 L498.81,490.76 L496.80,495.46 L494.56,500.00 L492.10,504.36 L489.43,508.55 L486.55,512.56 L483.46,516.37 L480.18,520.00 L476.70,523.42 L473.03,526.63 L469.18,529.63 L465.16,532.41 L460.97,534.97 L456.61,537.30 L452.09,539.40 L447.42,541.26 L442.59,542.88 L437.60,544.25 L432.46,545.38 L427.14,546.26 L421.60,546.89 L415.77,547.27 L409.10,547.40 L402.43,547.27 L396.60,546.89 L391.06,546.26 L385.74,545.38 L380.60,544.25 L375.61,542.88 L370.78,541.26 L366.11,539.40 L361.59,537.30 L357.23,534.97 L353.04,532.41 L349.02,529.63 L345.17,526.63 L341.50,523.42 L338.02,520.00 L334.74,516.37 L331.65,512.56 L328.77,508.55 L326.10,504.36 L323.64,500.00 L321.40,495.46 L319.39,490.76 L317.60,485.89 L316.04,480.86 L314.72,475.68 L313.64,470.32 L312.79,464.78 L312.19,459.01 L311.82,452.94 L311.70,446.00 L311.82,439.06 L312.19,432.99 L312.79,427.22 L313.64,421.68 L314.72,416.32 L316.04,411.14 L317.60,406.11 L319.39,401.24 L321.40,396.54 L323.64,392.00 L326.10,387.64 L328.77,383.45 L331.65,379.44 L334.74,375.63 L338.02,372.00 L341.50,368.58 L345.17,365.37 L349.02,362.37 L353.04,359.59 L357.23,357.03 L361.59,354.70 L366.11,352.60 L370.78,350.74 L375.61,349.12 L380.60,347.75 L385.74,346.62 L391.06,345.74 L396.60,345.11 L402.43,344.73 L409.10,344.60 L415.77,344.73 L421.60,345.11 L427.14,345.74 L432.46,346.62 L437.60,347.75 L442.59,349.12 L447.42,350.74 L452.09,352.60 L456.61,354.70 L460.97,357.03 L465.16,359.59 L469.18,362.37 L473.03,365.37 L476.70,368.58 L480.18,372.00 L483.46,375.63 L486.55,379.44 L489.43,383.45 L492.10,387.64 L494.56,392.00 L496.80,396.54 L498.81,401.24 L500.60,406.11 L502.16,411.14 L503.48,416.32 L504.56,421.68 L505.41,427.22 L506.01,432.99 L506.38,439.06Z" fill="#f8f400" filter="url(#b1)"/><path d="M505.50,446.00 L505.38,452.87 L505.02,458.89 L504.42,464.59 L503.58,470.08 L502.51,475.38 L501.20,480.52 L499.66,485.50 L497.89,490.32 L495.90,494.97 L493.68,499.47 L491.25,503.79 L488.61,507.93 L485.75,511.90 L482.70,515.68 L479.45,519.27 L476.00,522.65 L472.38,525.83 L468.57,528.81 L464.59,531.56 L460.43,534.09 L456.12,536.40 L451.65,538.48 L447.02,540.32 L442.25,541.92 L437.31,543.29 L432.22,544.40 L426.95,545.28 L421.47,545.90 L415.70,546.27 L409.10,546.40 L402.50,546.27 L396.73,545.90 L391.25,545.28 L385.98,544.40 L380.89,543.29 L375.95,541.92 L371.18,540.32 L366.55,538.48 L362.08,536.40 L357.77,534.09 L353.61,531.56 L349.63,528.81 L345.82,525.83 L342.20,522.65 L338.75,519.27 L335.50,515.68 L332.45,511.90 L329.59,507.93 L326.95,503.79 L324.52,499.47 L322.30,494.97 L320.31,490.32 L318.54,485.50 L317.00,480.52 L315.69,475.38 L314.62,470.08 L313.78,464.59 L313.18,458.89 L312.82,452.87 L312.70,446.00 L312.82,439.13 L313.18,433.11 L313.78,427.41 L314.62,421.92 L315.69,416.62 L317.00,411.48 L318.54,406.50 L320.31,401.68 L322.30,397.03 L324.52,392.53 L326.95,388.21 L329.59,384.07 L332.45,380.10 L335.50,376.32 L338.75,372.73 L342.20,369.35 L345.82,366.17 L349.63,363.19 L353.61,360.44 L357.77,357.91 L362.08,355.60 L366.55,353.52 L371.18,351.68 L375.95,350.08 L380.89,348.71 L385.98,347.60 L391.25,346.72 L396.73,346.10 L402.50,345.73 L409.10,345.60 L415.70,345.73 L421.47,346.10 L426.95,346.72 L432.22,347.60 L437.31,348.71 L442.25,350.08 L447.02,351.68 L451.65,353.52 L456.12,355.60 L460.43,357.91 L464.59,360.44 L468.57,363.19 L472.38,366.17 L476.00,369.35 L479.45,372.73 L482.70,376.32 L485.75,380.10 L488.61,384.07 L491.25,388.21 L493.68,392.53 L495.90,397.03 L497.89,401.68 L499.66,406.50 L501.20,411.48 L502.51,416.62 L503.58,421.92 L504.42,427.41 L505.02,433.11 L505.38,439.13Z" fill="#ff4214"/><ellipse cx="403.7" cy="446" rx="71.5" ry="91.5" fill="#ff9800" filter="url(#b1)"/><ellipse cx="403.7" cy="446" rx="69.0" ry="91.5" fill="#ffe000" filter="url(#b1)"/><ellipse cx="403.7" cy="446" rx="64.0" ry="91.5" fill="#f8fc00" filter="url(#b2)"/><ellipse cx="403.7" cy="446" rx="55.0" ry="91.0" fill="#d4fa04" filter="url(#b3)"/><ellipse cx="403.7" cy="446" rx="45.0" ry="90.0" fill="#a4fa08" filter="url(#b4)"/><ellipse cx="403.7" cy="446" rx="35.0" ry="89.0" fill="#7cfa0e" filter="url(#b4)"/><ellipse cx="403.7" cy="446" rx="24.0" ry="87.0" fill="#62fa12" filter="url(#b4)"/><path d="M399,338 L413,338 L410,352 L402,352Z M399,554 L413,554 L410,540 L402,540Z" fill="#60f030" filter="url(#b2)"/><defs><linearGradient id="gapg" x1="0" y1="0" x2="1" y2="0"><stop offset="0" stop-color="#48e6c0" stop-opacity="0"/><stop offset="0.3" stop-color="#48e6c0"/><stop offset="0.7" stop-color="#48e6c0"/><stop offset="1" stop-color="#48e6c0" stop-opacity="0"/></linearGradient></defs><g clip-path="url(#bandBR)"><rect x="366" y="338" width="80" height="14" fill="url(#gapg)"/><rect x="366" y="540" width="80" height="14" fill="url(#gapg)"/></g><g clip-path="url(#bandBR)"><path d="M492.10,446.00 L491.99,452.36 L491.67,457.92 L491.13,463.20 L490.39,468.28 L489.43,473.19 L488.26,477.94 L486.88,482.55 L485.30,487.01 L483.51,491.31 L481.53,495.47 L479.36,499.47 L476.99,503.31 L474.44,506.98 L471.71,510.47 L468.80,513.79 L465.72,516.93 L462.48,519.87 L459.07,522.62 L455.51,525.17 L451.80,527.51 L447.95,529.65 L443.95,531.57 L439.81,533.27 L435.54,534.76 L431.13,536.02 L426.57,537.05 L421.86,537.86 L416.96,538.44 L411.80,538.78 L405.90,538.90 L400.00,538.78 L394.84,538.44 L389.94,537.86 L385.23,537.05 L380.67,536.02 L376.26,534.76 L371.99,533.27 L367.85,531.57 L363.85,529.65 L360.00,527.51 L356.29,525.17 L352.73,522.62 L349.32,519.87 L346.08,516.93 L343.00,513.79 L340.09,510.47 L337.36,506.98 L334.81,503.31 L332.44,499.47 L330.27,495.47 L328.29,491.31 L326.50,487.01 L324.92,482.55 L323.54,477.94 L322.37,473.19 L321.41,468.28 L320.67,463.20 L320.13,457.92 L319.81,452.36 L319.70,446.00 L319.81,439.64 L320.13,434.08 L320.67,428.80 L321.41,423.72 L322.37,418.81 L323.54,414.06 L324.92,409.45 L326.50,404.99 L328.29,400.69 L330.27,396.53 L332.44,392.53 L334.81,388.69 L337.36,385.02 L340.09,381.53 L343.00,378.21 L346.08,375.07 L349.32,372.13 L352.73,369.38 L356.29,366.83 L360.00,364.49 L363.85,362.35 L367.85,360.43 L371.99,358.73 L376.26,357.24 L380.67,355.98 L385.23,354.95 L389.94,354.14 L394.84,353.56 L400.00,353.22 L405.90,353.10 L411.80,353.22 L416.96,353.56 L421.86,354.14 L426.57,354.95 L431.13,355.98 L435.54,357.24 L439.81,358.73 L443.95,360.43 L447.95,362.35 L451.80,364.49 L455.51,366.83 L459.07,369.38 L462.48,372.13 L465.72,375.07 L468.80,378.21 L471.71,381.53 L474.44,385.02 L476.99,388.69 L479.36,392.53 L481.53,396.53 L483.51,400.69 L485.30,404.99 L486.88,409.45 L488.26,414.06 L489.43,418.81 L490.39,423.72 L491.13,428.80 L491.67,434.08 L491.99,439.64Z" fill="#ff4214" opacity="0"/></g><path d="M400.17,347.40 L398.45,347.48 L396.78,347.58 L395.14,347.70 L393.53,347.84 L391.94,348.01 L390.38,348.20 L388.83,348.41 L387.30,348.64 L385.78,348.89 L384.28,349.17 L382.80,349.46 L381.33,349.78 L379.88,350.12 L378.44,350.49 L377.01,350.87 L375.60,351.27 L374.20,351.70 L372.81,352.15 L371.44,352.62 L370.08,353.11 L368.73,353.62 L367.40,354.15 L366.08,354.71 L364.77,355.28 L363.47,355.88 L362.19,356.49 L360.93,357.13 L359.67,357.79 L358.43,358.46 L357.21,359.16 L356.00,359.88 L354.80,360.62 L353.61,361.37 L352.44,362.15 L351.29,362.95 L350.15,363.76 L349.02,364.60 L347.91,365.45 L346.82,366.32 L345.74,367.22 L344.67,368.13 L343.62,369.06 L342.59,370.00 L341.57,370.97 L340.57,371.95 L339.59,372.95 L338.62,373.97 L337.67,375.01 L336.73,376.07 L335.81,377.14 L334.91,378.23 L334.02,379.33 L333.15,380.46 L332.30,381.60 L331.47,382.75 L330.66,383.93 L329.86,385.11 L329.08,386.32 L328.32,387.54 L327.57,388.78 L326.85,390.03 L326.14,391.29 L325.45,392.58 L324.78,393.87 L324.13,395.19 L323.50,396.51 L322.88,397.86 L322.29,399.21 L321.71,400.58 L321.16,401.97 L320.62,403.37 L320.10,404.78 L319.61,406.21 L319.13,407.65 L318.67,409.11 L318.23,410.58 L317.81,412.06 L317.41,413.56 L317.03,415.08 L316.68,416.60 L316.34,418.14 L316.02,419.70 L315.72,421.27 L315.44,422.86 L315.19,424.46 L314.95,426.09 L314.73,427.72 L314.54,429.38 L314.36,431.06 L314.21,432.76 L314.07,434.49 L313.96,436.24 L313.87,438.03 L313.79,439.86 L313.74,441.75 L313.71,443.74 L313.70,446.00 L313.71,448.26 L313.74,450.25 L313.79,452.14 L313.87,453.97 L313.96,455.76 L314.07,457.51 L314.21,459.24 L314.36,460.94 L314.54,462.62 L314.73,464.28 L314.95,465.91 L315.19,467.54 L315.44,469.14 L315.72,470.73 L316.02,472.30 L316.34,473.86 L316.68,475.40 L317.03,476.92 L317.41,478.44 L317.81,479.94 L318.23,481.42 L318.67,482.89 L319.13,484.35 L319.61,485.79 L320.10,487.22 L320.62,488.63 L321.16,490.03 L321.71,491.42 L322.29,492.79 L322.88,494.14 L323.50,495.49 L324.13,496.81 L324.78,498.13 L325.45,499.42 L326.14,500.71 L326.85,501.97 L327.57,503.22 L328.32,504.46 L329.08,505.68 L329.86,506.89 L330.66,508.07 L331.47,509.25 L332.30,510.40 L333.15,511.54 L334.02,512.67 L334.91,513.77 L335.81,514.86 L336.73,515.93 L337.67,516.99 L338.62,518.03 L339.59,519.05 L340.57,520.05 L341.57,521.03 L342.59,522.00 L343.62,522.94 L344.67,523.87 L345.74,524.78 L346.82,525.68 L347.91,526.55 L349.02,527.40 L350.15,528.24 L351.29,529.05 L352.44,529.85 L353.61,530.63 L354.80,531.38 L356.00,532.12 L357.21,532.84 L358.43,533.54 L359.67,534.21 L360.93,534.87 L362.19,535.51 L363.47,536.12 L364.77,536.72 L366.08,537.29 L367.40,537.85 L368.73,538.38 L370.08,538.89 L371.44,539.38 L372.81,539.85 L374.20,540.30 L375.60,540.73 L377.01,541.13 L378.44,541.51 L379.88,541.88 L381.33,542.22 L382.80,542.54 L384.28,542.83 L385.78,543.11 L387.30,543.36 L388.83,543.59 L390.38,543.80 L391.94,543.99 L393.53,544.16 L395.14,544.30 L396.78,544.42 L398.45,544.52 L400.17,544.60 L400.54,538.81 L398.94,538.73 L397.38,538.64 L395.84,538.53 L394.34,538.39 L392.85,538.23 L391.39,538.06 L389.94,537.86 L388.51,537.64 L387.09,537.40 L385.69,537.14 L384.30,536.86 L382.93,536.56 L381.57,536.24 L380.23,535.90 L378.89,535.54 L377.57,535.16 L376.26,534.76 L374.97,534.34 L373.68,533.89 L372.41,533.43 L371.15,532.95 L369.90,532.45 L368.67,531.93 L367.45,531.39 L366.24,530.83 L365.04,530.25 L363.85,529.65 L362.68,529.03 L361.52,528.39 L360.38,527.74 L359.24,527.06 L358.12,526.37 L357.02,525.65 L355.92,524.92 L354.84,524.17 L353.78,523.41 L352.73,522.62 L351.69,521.82 L350.66,520.99 L349.65,520.15 L348.66,519.30 L347.68,518.42 L346.71,517.53 L345.76,516.62 L344.82,515.70 L343.90,514.75 L343.00,513.79 L342.11,512.82 L341.23,511.82 L340.37,510.81 L339.53,509.79 L338.70,508.75 L337.89,507.69 L337.09,506.62 L336.31,505.53 L335.55,504.43 L334.81,503.31 L334.08,502.17 L333.36,501.03 L332.67,499.86 L331.99,498.68 L331.33,497.49 L330.69,496.28 L330.06,495.06 L329.45,493.83 L328.86,492.58 L328.29,491.31 L327.73,490.04 L327.19,488.75 L326.67,487.44 L326.17,486.13 L325.69,484.80 L325.22,483.45 L324.77,482.09 L324.35,480.72 L323.94,479.34 L323.54,477.94 L323.17,476.53 L322.82,475.11 L322.48,473.67 L322.17,472.22 L321.87,470.75 L321.59,469.27 L321.33,467.78 L321.09,466.27 L320.87,464.74 L320.67,463.20 L320.48,461.64 L320.32,460.06 L320.17,458.46 L320.05,456.84 L319.94,455.19 L319.85,453.50 L319.79,451.78 L319.74,450.00 L319.71,448.13 L319.70,446.00 L319.71,443.87 L319.74,442.00 L319.79,440.22 L319.85,438.50 L319.94,436.81 L320.05,435.16 L320.17,433.54 L320.32,431.94 L320.48,430.36 L320.67,428.80 L320.87,427.26 L321.09,425.73 L321.33,424.22 L321.59,422.73 L321.87,421.25 L322.17,419.78 L322.48,418.33 L322.82,416.89 L323.17,415.47 L323.54,414.06 L323.94,412.66 L324.35,411.28 L324.77,409.91 L325.22,408.55 L325.69,407.20 L326.17,405.87 L326.67,404.56 L327.19,403.25 L327.73,401.96 L328.29,400.69 L328.86,399.42 L329.45,398.17 L330.06,396.94 L330.69,395.72 L331.33,394.51 L331.99,393.32 L332.67,392.14 L333.36,390.97 L334.08,389.83 L334.81,388.69 L335.55,387.57 L336.31,386.47 L337.09,385.38 L337.89,384.31 L338.70,383.25 L339.53,382.21 L340.37,381.19 L341.23,380.18 L342.11,379.18 L343.00,378.21 L343.90,377.25 L344.82,376.30 L345.76,375.38 L346.71,374.47 L347.68,373.58 L348.66,372.70 L349.65,371.85 L350.66,371.01 L351.69,370.18 L352.73,369.38 L353.78,368.59 L354.84,367.83 L355.92,367.08 L357.02,366.35 L358.12,365.63 L359.24,364.94 L360.38,364.26 L361.52,363.61 L362.68,362.97 L363.85,362.35 L365.04,361.75 L366.24,361.17 L367.45,360.61 L368.67,360.07 L369.90,359.55 L371.15,359.05 L372.41,358.57 L373.68,358.11 L374.97,357.66 L376.26,357.24 L377.57,356.84 L378.89,356.46 L380.23,356.10 L381.57,355.76 L382.93,355.44 L384.30,355.14 L385.69,354.86 L387.09,354.60 L388.51,354.36 L389.94,354.14 L391.39,353.94 L392.85,353.77 L394.34,353.61 L395.84,353.47 L397.38,353.36 L398.94,353.27 L400.54,353.19Z" fill="none" stroke="#3a2a10" stroke-width="1.1"/><path d="M411.63,347.40 L413.35,347.48 L415.02,347.58 L416.66,347.70 L418.27,347.84 L419.86,348.01 L421.42,348.20 L422.97,348.41 L424.50,348.64 L426.02,348.89 L427.52,349.17 L429.00,349.46 L430.47,349.78 L431.92,350.12 L433.36,350.49 L434.79,350.87 L436.20,351.27 L437.60,351.70 L438.99,352.15 L440.36,352.62 L441.72,353.11 L443.07,353.62 L444.40,354.15 L445.72,354.71 L447.03,355.28 L448.33,355.88 L449.61,356.49 L450.87,357.13 L452.13,357.79 L453.37,358.46 L454.59,359.16 L455.80,359.88 L457.00,360.62 L458.19,361.37 L459.36,362.15 L460.51,362.95 L461.65,363.76 L462.78,364.60 L463.89,365.45 L464.98,366.32 L466.06,367.22 L467.13,368.13 L468.18,369.06 L469.21,370.00 L470.23,370.97 L471.23,371.95 L472.21,372.95 L473.18,373.97 L474.13,375.01 L475.07,376.07 L475.99,377.14 L476.89,378.23 L477.78,379.33 L478.65,380.46 L479.50,381.60 L480.33,382.75 L481.14,383.93 L481.94,385.11 L482.72,386.32 L483.48,387.54 L484.23,388.78 L484.95,390.03 L485.66,391.29 L486.35,392.58 L487.02,393.87 L487.67,395.19 L488.30,396.51 L488.92,397.86 L489.51,399.21 L490.09,400.58 L490.64,401.97 L491.18,403.37 L491.70,404.78 L492.19,406.21 L492.67,407.65 L493.13,409.11 L493.57,410.58 L493.99,412.06 L494.39,413.56 L494.77,415.08 L495.12,416.60 L495.46,418.14 L495.78,419.70 L496.08,421.27 L496.36,422.86 L496.61,424.46 L496.85,426.09 L497.07,427.72 L497.26,429.38 L497.44,431.06 L497.59,432.76 L497.73,434.49 L497.84,436.24 L497.93,438.03 L498.01,439.86 L498.06,441.75 L498.09,443.74 L498.10,446.00 L498.09,448.26 L498.06,450.25 L498.01,452.14 L497.93,453.97 L497.84,455.76 L497.73,457.51 L497.59,459.24 L497.44,460.94 L497.26,462.62 L497.07,464.28 L496.85,465.91 L496.61,467.54 L496.36,469.14 L496.08,470.73 L495.78,472.30 L495.46,473.86 L495.12,475.40 L494.77,476.92 L494.39,478.44 L493.99,479.94 L493.57,481.42 L493.13,482.89 L492.67,484.35 L492.19,485.79 L491.70,487.22 L491.18,488.63 L490.64,490.03 L490.09,491.42 L489.51,492.79 L488.92,494.14 L488.30,495.49 L487.67,496.81 L487.02,498.13 L486.35,499.42 L485.66,500.71 L484.95,501.97 L484.23,503.22 L483.48,504.46 L482.72,505.68 L481.94,506.89 L481.14,508.07 L480.33,509.25 L479.50,510.40 L478.65,511.54 L477.78,512.67 L476.89,513.77 L475.99,514.86 L475.07,515.93 L474.13,516.99 L473.18,518.03 L472.21,519.05 L471.23,520.05 L470.23,521.03 L469.21,522.00 L468.18,522.94 L467.13,523.87 L466.06,524.78 L464.98,525.68 L463.89,526.55 L462.78,527.40 L461.65,528.24 L460.51,529.05 L459.36,529.85 L458.19,530.63 L457.00,531.38 L455.80,532.12 L454.59,532.84 L453.37,533.54 L452.13,534.21 L450.87,534.87 L449.61,535.51 L448.33,536.12 L447.03,536.72 L445.72,537.29 L444.40,537.85 L443.07,538.38 L441.72,538.89 L440.36,539.38 L438.99,539.85 L437.60,540.30 L436.20,540.73 L434.79,541.13 L433.36,541.51 L431.92,541.88 L430.47,542.22 L429.00,542.54 L427.52,542.83 L426.02,543.11 L424.50,543.36 L422.97,543.59 L421.42,543.80 L419.86,543.99 L418.27,544.16 L416.66,544.30 L415.02,544.42 L413.35,544.52 L411.63,544.60 L411.26,538.81 L412.86,538.73 L414.42,538.64 L415.96,538.53 L417.46,538.39 L418.95,538.23 L420.41,538.06 L421.86,537.86 L423.29,537.64 L424.71,537.40 L426.11,537.14 L427.50,536.86 L428.87,536.56 L430.23,536.24 L431.57,535.90 L432.91,535.54 L434.23,535.16 L435.54,534.76 L436.83,534.34 L438.12,533.89 L439.39,533.43 L440.65,532.95 L441.90,532.45 L443.13,531.93 L444.35,531.39 L445.56,530.83 L446.76,530.25 L447.95,529.65 L449.12,529.03 L450.28,528.39 L451.42,527.74 L452.56,527.06 L453.68,526.37 L454.78,525.65 L455.88,524.92 L456.96,524.17 L458.02,523.41 L459.07,522.62 L460.11,521.82 L461.14,520.99 L462.15,520.15 L463.14,519.30 L464.12,518.42 L465.09,517.53 L466.04,516.62 L466.98,515.70 L467.90,514.75 L468.80,513.79 L469.69,512.82 L470.57,511.82 L471.43,510.81 L472.27,509.79 L473.10,508.75 L473.91,507.69 L474.71,506.62 L475.49,505.53 L476.25,504.43 L476.99,503.31 L477.72,502.17 L478.44,501.03 L479.13,499.86 L479.81,498.68 L480.47,497.49 L481.11,496.28 L481.74,495.06 L482.35,493.83 L482.94,492.58 L483.51,491.31 L484.07,490.04 L484.61,488.75 L485.13,487.44 L485.63,486.13 L486.11,484.80 L486.58,483.45 L487.03,482.09 L487.45,480.72 L487.86,479.34 L488.26,477.94 L488.63,476.53 L488.98,475.11 L489.32,473.67 L489.63,472.22 L489.93,470.75 L490.21,469.27 L490.47,467.78 L490.71,466.27 L490.93,464.74 L491.13,463.20 L491.32,461.64 L491.48,460.06 L491.63,458.46 L491.75,456.84 L491.86,455.19 L491.95,453.50 L492.01,451.78 L492.06,450.00 L492.09,448.13 L492.10,446.00 L492.09,443.87 L492.06,442.00 L492.01,440.22 L491.95,438.50 L491.86,436.81 L491.75,435.16 L491.63,433.54 L491.48,431.94 L491.32,430.36 L491.13,428.80 L490.93,427.26 L490.71,425.73 L490.47,424.22 L490.21,422.73 L489.93,421.25 L489.63,419.78 L489.32,418.33 L488.98,416.89 L488.63,415.47 L488.26,414.06 L487.86,412.66 L487.45,411.28 L487.03,409.91 L486.58,408.55 L486.11,407.20 L485.63,405.87 L485.13,404.56 L484.61,403.25 L484.07,401.96 L483.51,400.69 L482.94,399.42 L482.35,398.17 L481.74,396.94 L481.11,395.72 L480.47,394.51 L479.81,393.32 L479.13,392.14 L478.44,390.97 L477.72,389.83 L476.99,388.69 L476.25,387.57 L475.49,386.47 L474.71,385.38 L473.91,384.31 L473.10,383.25 L472.27,382.21 L471.43,381.19 L470.57,380.18 L469.69,379.18 L468.80,378.21 L467.90,377.25 L466.98,376.30 L466.04,375.38 L465.09,374.47 L464.12,373.58 L463.14,372.70 L462.15,371.85 L461.14,371.01 L460.11,370.18 L459.07,369.38 L458.02,368.59 L456.96,367.83 L455.88,367.08 L454.78,366.35 L453.68,365.63 L452.56,364.94 L451.42,364.26 L450.28,363.61 L449.12,362.97 L447.95,362.35 L446.76,361.75 L445.56,361.17 L444.35,360.61 L443.13,360.07 L441.90,359.55 L440.65,359.05 L439.39,358.57 L438.12,358.11 L436.83,357.66 L435.54,357.24 L434.23,356.84 L432.91,356.46 L431.57,356.10 L430.23,355.76 L428.87,355.44 L427.50,355.14 L426.11,354.86 L424.71,354.60 L423.29,354.36 L421.86,354.14 L420.41,353.94 L418.95,353.77 L417.46,353.61 L415.96,353.47 L414.42,353.36 L412.86,353.27 L411.26,353.19Z" fill="none" stroke="#3a2a10" stroke-width="1.1"/></g><defs><linearGradient id="cb" x1="0" y1="0" x2="0" y2="1"><stop offset="0" stop-color="#ff0000"/><stop offset="0.245" stop-color="#ffff00"/><stop offset="0.485" stop-color="#00ff00"/><stop offset="0.742" stop-color="#00ffff"/><stop offset="1" stop-color="#0000ff"/></linearGradient></defs><rect x="575.7" y="85" width="29.3" height="221" fill="url(#cb)"/><rect x="575.7" y="357.9" width="30" height="221.3" fill="url(#cb)"/><text transform="translate(554.70,69.30)" class="rd">Max</text><text transform="translate(552.00,345.60) scale(0.967,1)" class="rd">A/m</text><text x="623" y="387.6" class="rd">1</text><text transform="translate(623.00,578.20)" class="rd">0</text><text transform="translate(16.50,75.80) scale(0.970,1)" class="bk">0</text><text transform="translate(293.50,75.70) scale(0.970,1)" class="bk">1</text><text transform="translate(7.00,26.00) scale(1.065,1)" class="lbl">A</text><text x="690.5" y="50" class="lbl">B</text><line x1="796" x2="806.0" y1="484.40" y2="484.40" stroke="#000" stroke-width="3.9"/><line x1="796" x2="801.0" y1="442.70" y2="442.70" stroke="#000" stroke-width="3.9"/><line x1="796" x2="806.0" y1="401.00" y2="401.00" stroke="#000" stroke-width="3.9"/><line x1="796" x2="801.0" y1="359.30" y2="359.30" stroke="#000" stroke-width="3.9"/><line x1="796" x2="806.0" y1="317.60" y2="317.60" stroke="#000" stroke-width="3.9"/><line x1="796" x2="801.0" y1="275.90" y2="275.90" stroke="#000" stroke-width="3.9"/><line x1="796" x2="806.0" y1="234.20" y2="234.20" stroke="#000" stroke-width="3.9"/><line x1="796" x2="801.0" y1="192.50" y2="192.50" stroke="#000" stroke-width="3.9"/><line x1="796" x2="806.0" y1="150.80" y2="150.80" stroke="#000" stroke-width="3.9"/><line x1="796" x2="801.0" y1="109.10" y2="109.10" stroke="#000" stroke-width="3.9"/><line x1="795.00" x2="795.00" y1="491" y2="481.0" stroke="#000" stroke-width="3.9"/><line x1="868.12" x2="868.12" y1="491" y2="486.0" stroke="#000" stroke-width="3.9"/><line x1="941.25" x2="941.25" y1="491" y2="481.0" stroke="#000" stroke-width="3.9"/><line x1="1014.38" x2="1014.38" y1="491" y2="486.0" stroke="#000" stroke-width="3.9"/><line x1="1087.50" x2="1087.50" y1="491" y2="481.0" stroke="#000" stroke-width="3.9"/><line x1="1160.62" x2="1160.62" y1="491" y2="486.0" stroke="#000" stroke-width="3.9"/><line x1="1233.75" x2="1233.75" y1="491" y2="481.0" stroke="#000" stroke-width="3.9"/><line x1="1306.88" x2="1306.88" y1="491" y2="486.0" stroke="#000" stroke-width="3.9"/><line x1="1380.00" x2="1380.00" y1="491" y2="481.0" stroke="#000" stroke-width="3.9"/><rect x="795" y="68.3" width="585" height="423.5" fill="none" stroke="#000" stroke-width="3.9"/><defs><clipPath id="pc"><rect x="794.5" y="66" width="585.5" height="425.6"/></clipPath></defs><g clip-path="url(#pc)"><path d="M792.20,483.80 L793.78,483.80 L795.77,483.80 L798.09,483.80 L800.70,483.80 L803.53,483.80 L806.54,483.80 L809.66,483.80 L812.84,483.80 L816.02,483.80 L819.14,483.80 L822.14,483.80 L824.98,483.80 L827.71,483.80 L830.44,483.80 L833.17,483.80 L835.91,483.80 L838.64,483.80 L841.37,483.80 L844.10,483.80 L846.83,483.80 L849.57,483.80 L852.30,483.80 L855.03,483.80 L857.76,483.80 L860.49,483.80 L863.22,483.80 L865.96,483.80 L868.69,483.80 L871.42,483.80 L874.15,483.80 L876.88,483.80 L879.61,483.80 L882.34,483.80 L885.08,483.80 L887.81,483.80 L890.54,483.80 L893.27,483.80 L896.00,483.80 L898.74,483.80 L901.47,483.80 L904.20,483.80 L906.93,483.80 L909.66,483.80 L912.39,483.80 L915.13,483.80 L917.86,483.80 L920.59,483.80 L923.32,483.80 L926.05,483.80 L928.78,483.80 L931.52,483.80 L934.25,483.80 L936.98,483.80 L939.71,483.80 L942.44,483.80 L945.17,483.80 L947.90,483.80 L950.64,483.80 L953.37,483.80 L956.10,483.80 L958.83,483.80 L961.56,483.80 L964.30,483.80 L967.03,483.80 L969.76,483.80 L972.49,483.80 L975.22,483.80 L977.95,483.80 L980.69,483.80 L983.42,483.80 L986.15,483.80 L988.88,483.80 L991.61,483.80 L994.34,483.80 L997.08,483.80 L999.81,483.80 L1002.54,483.80 L1005.27,483.80 L1008.00,483.80 L1010.73,483.80 L1013.47,483.80 L1016.20,483.80 L1018.93,483.80 L1021.66,483.80 L1024.39,483.80 L1027.12,483.80 L1029.86,483.80 L1032.59,483.80 L1035.32,483.80 L1038.05,483.80 L1040.78,483.80 L1043.51,483.80 L1046.25,483.80 L1048.98,483.80 L1051.71,483.80 L1054.44,483.80 L1057.17,483.80 L1059.90,483.80 L1062.63,483.80 L1065.37,483.80 L1068.10,483.80 L1070.83,483.80 L1073.56,483.80 L1076.29,483.80 L1079.02,483.80 L1081.76,483.80 L1084.49,483.80 L1087.22,483.80 L1089.95,483.80 L1092.68,483.80 L1095.41,483.80 L1098.15,483.80 L1100.88,483.80 L1103.61,483.80 L1106.34,483.80 L1109.07,483.80 L1111.80,483.80 L1114.54,483.80 L1117.27,483.80 L1120.00,483.80 L1122.73,483.80 L1125.46,483.80 L1128.19,483.80 L1130.93,483.80 L1133.66,483.80 L1136.39,483.80 L1139.12,483.80 L1141.85,483.80 L1144.59,483.80 L1147.32,483.80 L1150.05,483.80 L1152.78,483.80 L1155.51,483.80 L1158.24,483.80 L1160.98,483.80 L1163.71,483.80 L1166.44,483.80 L1169.17,483.80 L1171.90,483.80 L1174.63,483.80 L1177.37,483.80 L1180.10,483.80 L1182.83,483.80 L1185.56,483.80 L1188.29,483.80 L1191.02,483.80 L1193.75,483.80 L1196.49,483.80 L1199.22,483.80 L1201.95,483.80 L1204.68,483.80 L1207.41,483.80 L1210.15,483.80 L1212.88,483.80 L1215.61,483.80 L1218.34,483.80 L1221.07,483.80 L1223.80,483.80 L1226.54,483.80 L1229.27,483.80 L1232.00,483.80 L1234.73,483.80 L1237.46,483.80 L1240.19,483.80 L1242.92,483.80 L1245.66,483.80 L1248.39,483.80 L1251.12,483.80 L1253.85,483.80 L1256.58,483.80 L1259.32,483.80 L1262.05,483.80 L1264.78,483.80 L1267.51,483.80 L1270.24,483.80 L1272.97,483.80 L1275.71,483.80 L1278.44,483.80 L1281.17,483.80 L1283.90,483.80 L1286.63,483.80 L1289.36,483.80 L1292.10,483.80 L1294.83,483.80 L1297.56,483.80 L1300.29,483.80 L1303.02,483.80 L1305.75,483.80 L1308.49,483.80 L1311.22,483.80 L1313.95,483.80 L1316.68,483.80 L1319.41,483.80 L1322.14,483.80 L1324.88,483.80 L1327.61,483.80 L1330.34,483.80 L1333.07,483.80 L1335.80,483.80 L1338.53,483.80 L1341.27,483.80 L1344.00,483.80 L1346.73,483.80 L1349.46,483.80 L1352.30,483.80 L1355.30,483.80 L1358.42,483.80 L1361.60,483.80 L1364.78,483.80 L1367.90,483.80 L1370.91,483.80 L1373.74,483.80 L1376.35,483.80 L1378.67,483.80 L1380.66,483.80 L1382.24,483.80" fill="none" stroke="#0000ff" stroke-width="5.8"/><circle cx="792.20" cy="484.30" r="6.1" fill="#fff" stroke="#0000ff" stroke-width="2.9"/><circle cx="824.98" cy="484.30" r="6.1" fill="#fff" stroke="#0000ff" stroke-width="2.9"/><circle cx="857.76" cy="484.30" r="6.1" fill="#fff" stroke="#0000ff" stroke-width="2.9"/><circle cx="890.54" cy="484.30" r="6.1" fill="#fff" stroke="#0000ff" stroke-width="2.9"/><circle cx="923.32" cy="484.30" r="6.1" fill="#fff" stroke="#0000ff" stroke-width="2.9"/><circle cx="956.10" cy="484.30" r="6.1" fill="#fff" stroke="#0000ff" stroke-width="2.9"/><circle cx="988.88" cy="484.30" r="6.1" fill="#fff" stroke="#0000ff" stroke-width="2.9"/><circle cx="1021.66" cy="484.30" r="6.1" fill="#fff" stroke="#0000ff" stroke-width="2.9"/><circle cx="1054.44" cy="484.30" r="6.1" fill="#fff" stroke="#0000ff" stroke-width="2.9"/><circle cx="1087.22" cy="484.30" r="6.1" fill="#fff" stroke="#0000ff" stroke-width="2.9"/><circle cx="1120.00" cy="484.30" r="6.1" fill="#fff" stroke="#0000ff" stroke-width="2.9"/><circle cx="1152.78" cy="484.30" r="6.1" fill="#fff" stroke="#0000ff" stroke-width="2.9"/><circle cx="1185.56" cy="484.30" r="6.1" fill="#fff" stroke="#0000ff" stroke-width="2.9"/><circle cx="1218.34" cy="484.30" r="6.1" fill="#fff" stroke="#0000ff" stroke-width="2.9"/><circle cx="1251.12" cy="484.30" r="6.1" fill="#fff" stroke="#0000ff" stroke-width="2.9"/><circle cx="1283.90" cy="484.30" r="6.1" fill="#fff" stroke="#0000ff" stroke-width="2.9"/><circle cx="1316.68" cy="484.30" r="6.1" fill="#fff" stroke="#0000ff" stroke-width="2.9"/><circle cx="1349.46" cy="484.30" r="6.1" fill="#fff" stroke="#0000ff" stroke-width="2.9"/><circle cx="1382.24" cy="484.30" r="6.1" fill="#fff" stroke="#0000ff" stroke-width="2.9"/><path d="M792.20,466.30 L793.78,466.27 L795.77,466.23 L798.09,466.20 L800.70,466.15 L803.53,466.10 L806.54,466.05 L809.66,465.99 L812.84,465.93 L816.02,465.85 L819.14,465.78 L822.14,465.69 L824.98,465.60 L827.71,465.50 L830.44,465.38 L833.17,465.26 L835.91,465.13 L838.64,464.99 L841.37,464.85 L844.10,464.71 L846.83,464.56 L849.57,464.41 L852.30,464.27 L855.03,464.13 L857.76,464.00 L860.49,463.87 L863.22,463.75 L865.96,463.63 L868.69,463.51 L871.42,463.40 L874.15,463.28 L876.88,463.16 L879.61,463.04 L882.34,462.91 L885.08,462.78 L887.81,462.65 L890.54,462.50 L893.27,462.35 L896.00,462.19 L898.74,462.03 L901.47,461.86 L904.20,461.69 L906.93,461.51 L909.66,461.33 L912.39,461.15 L915.13,460.97 L917.86,460.78 L920.59,460.59 L923.32,460.40 L926.05,460.21 L928.78,460.02 L931.52,459.82 L934.25,459.63 L936.98,459.43 L939.71,459.23 L942.44,459.03 L945.17,458.81 L947.90,458.60 L950.64,458.37 L953.37,458.14 L956.10,457.90 L958.83,457.65 L961.56,457.39 L964.30,457.13 L967.03,456.86 L969.76,456.58 L972.49,456.29 L975.22,456.00 L977.95,455.71 L980.69,455.41 L983.42,455.11 L986.15,454.81 L988.88,454.50 L991.61,454.19 L994.34,453.89 L997.08,453.58 L999.81,453.27 L1002.54,452.96 L1005.27,452.64 L1008.00,452.31 L1010.73,451.97 L1013.47,451.63 L1016.20,451.27 L1018.93,450.89 L1021.66,450.50 L1024.39,450.10 L1027.12,449.68 L1029.86,449.26 L1032.59,448.83 L1035.32,448.38 L1038.05,447.93 L1040.78,447.46 L1043.51,446.97 L1046.25,446.48 L1048.98,445.97 L1051.71,445.44 L1054.44,444.90 L1057.17,444.35 L1059.90,443.80 L1062.63,443.24 L1065.37,442.67 L1068.10,442.09 L1070.83,441.49 L1073.56,440.87 L1076.29,440.22 L1079.02,439.54 L1081.76,438.83 L1084.49,438.09 L1087.22,437.30 L1089.95,436.49 L1092.68,435.65 L1095.41,434.80 L1098.15,433.93 L1100.88,433.02 L1103.61,432.08 L1106.34,431.10 L1109.07,430.09 L1111.80,429.02 L1114.54,427.90 L1117.27,426.73 L1120.00,425.50 L1122.73,424.23 L1125.46,422.95 L1128.19,421.63 L1130.93,420.29 L1133.66,418.89 L1136.39,417.44 L1139.12,415.92 L1141.85,414.33 L1144.59,412.65 L1147.32,410.87 L1150.05,408.99 L1152.78,407.00 L1155.51,404.96 L1158.24,402.92 L1160.98,400.85 L1163.71,398.72 L1166.44,396.51 L1169.17,394.19 L1171.90,391.72 L1174.63,389.08 L1177.37,386.23 L1180.10,383.16 L1182.83,379.82 L1185.56,376.20 L1188.29,372.40 L1191.02,368.53 L1193.75,364.54 L1196.49,360.40 L1199.22,356.05 L1201.95,351.46 L1204.68,346.58 L1207.41,341.37 L1210.15,335.77 L1212.88,329.76 L1215.61,323.29 L1218.34,316.30 L1221.07,308.65 L1223.80,300.27 L1226.54,291.28 L1229.27,281.81 L1232.00,271.95 L1234.73,261.84 L1237.46,251.58 L1240.19,241.28 L1242.92,231.07 L1245.66,221.06 L1248.39,211.37 L1251.12,202.10 L1253.85,192.40 L1256.58,181.58 L1259.32,170.04 L1262.05,158.19 L1264.78,146.42 L1267.51,135.13 L1270.24,124.73 L1272.97,115.61 L1275.71,108.18 L1278.44,102.84 L1281.17,99.98 L1283.90,100.00 L1286.63,103.23 L1289.36,109.42 L1292.10,118.14 L1294.83,128.99 L1297.56,141.51 L1300.29,155.29 L1303.02,169.91 L1305.75,184.93 L1308.49,199.92 L1311.22,214.47 L1313.95,228.14 L1316.68,240.50 L1319.41,252.31 L1322.14,264.50 L1324.88,276.94 L1327.61,289.49 L1330.34,302.01 L1333.07,314.38 L1335.80,326.46 L1338.53,338.10 L1341.27,349.19 L1344.00,359.57 L1346.73,369.12 L1349.46,377.70 L1352.30,385.39 L1355.30,392.38 L1358.42,398.72 L1361.60,404.46 L1364.78,409.63 L1367.90,414.27 L1370.91,418.45 L1373.74,422.19 L1376.35,425.54 L1378.67,428.55 L1380.66,431.25 L1382.24,433.70" fill="none" stroke="#008000" stroke-width="5.6" stroke-linejoin="round"/><rect x="786.65" y="460.75" width="11.1" height="11.1" fill="#fff" stroke="#008000" stroke-width="3.7"/><rect x="819.43" y="460.05" width="11.1" height="11.1" fill="#fff" stroke="#008000" stroke-width="3.7"/><rect x="852.21" y="458.45" width="11.1" height="11.1" fill="#fff" stroke="#008000" stroke-width="3.7"/><rect x="884.99" y="456.95" width="11.1" height="11.1" fill="#fff" stroke="#008000" stroke-width="3.7"/><rect x="917.77" y="454.85" width="11.1" height="11.1" fill="#fff" stroke="#008000" stroke-width="3.7"/><rect x="950.55" y="452.35" width="11.1" height="11.1" fill="#fff" stroke="#008000" stroke-width="3.7"/><rect x="983.33" y="448.95" width="11.1" height="11.1" fill="#fff" stroke="#008000" stroke-width="3.7"/><rect x="1016.11" y="444.95" width="11.1" height="11.1" fill="#fff" stroke="#008000" stroke-width="3.7"/><rect x="1048.89" y="439.35" width="11.1" height="11.1" fill="#fff" stroke="#008000" stroke-width="3.7"/><rect x="1081.67" y="431.75" width="11.1" height="11.1" fill="#fff" stroke="#008000" stroke-width="3.7"/><rect x="1114.45" y="419.95" width="11.1" height="11.1" fill="#fff" stroke="#008000" stroke-width="3.7"/><rect x="1147.23" y="401.45" width="11.1" height="11.1" fill="#fff" stroke="#008000" stroke-width="3.7"/><rect x="1180.01" y="370.65" width="11.1" height="11.1" fill="#fff" stroke="#008000" stroke-width="3.7"/><rect x="1212.79" y="310.75" width="11.1" height="11.1" fill="#fff" stroke="#008000" stroke-width="3.7"/><rect x="1245.57" y="196.55" width="11.1" height="11.1" fill="#fff" stroke="#008000" stroke-width="3.7"/><rect x="1278.35" y="94.45" width="11.1" height="11.1" fill="#fff" stroke="#008000" stroke-width="3.7"/><rect x="1311.13" y="234.95" width="11.1" height="11.1" fill="#fff" stroke="#008000" stroke-width="3.7"/><rect x="1343.91" y="372.15" width="11.1" height="11.1" fill="#fff" stroke="#008000" stroke-width="3.7"/><rect x="1376.69" y="428.15" width="11.1" height="11.1" fill="#fff" stroke="#008000" stroke-width="3.7"/><path d="M792.20,478.00 L793.78,477.99 L795.77,477.98 L798.09,477.96 L800.70,477.94 L803.53,477.92 L806.54,477.90 L809.66,477.88 L812.84,477.86 L816.02,477.84 L819.14,477.82 L822.14,477.81 L824.98,477.80 L827.71,477.79 L830.44,477.79 L833.17,477.79 L835.91,477.79 L838.64,477.79 L841.37,477.79 L844.10,477.80 L846.83,477.80 L849.57,477.80 L852.30,477.80 L855.03,477.80 L857.76,477.80 L860.49,477.80 L863.22,477.79 L865.96,477.78 L868.69,477.78 L871.42,477.77 L874.15,477.76 L876.88,477.75 L879.61,477.74 L882.34,477.73 L885.08,477.72 L887.81,477.71 L890.54,477.70 L893.27,477.69 L896.00,477.67 L898.74,477.66 L901.47,477.64 L904.20,477.62 L906.93,477.61 L909.66,477.59 L912.39,477.57 L915.13,477.55 L917.86,477.53 L920.59,477.52 L923.32,477.50 L926.05,477.48 L928.78,477.47 L931.52,477.45 L934.25,477.43 L936.98,477.41 L939.71,477.39 L942.44,477.38 L945.17,477.36 L947.90,477.34 L950.64,477.33 L953.37,477.31 L956.10,477.30 L958.83,477.29 L961.56,477.28 L964.30,477.27 L967.03,477.26 L969.76,477.26 L972.49,477.25 L975.22,477.24 L977.95,477.24 L980.69,477.23 L983.42,477.22 L986.15,477.21 L988.88,477.20 L991.61,477.19 L994.34,477.17 L997.08,477.16 L999.81,477.15 L1002.54,477.13 L1005.27,477.12 L1008.00,477.10 L1010.73,477.09 L1013.47,477.07 L1016.20,477.05 L1018.93,477.02 L1021.66,477.00 L1024.39,476.97 L1027.12,476.94 L1029.86,476.91 L1032.59,476.88 L1035.32,476.85 L1038.05,476.81 L1040.78,476.78 L1043.51,476.74 L1046.25,476.70 L1048.98,476.67 L1051.71,476.63 L1054.44,476.60 L1057.17,476.57 L1059.90,476.53 L1062.63,476.50 L1065.37,476.46 L1068.10,476.43 L1070.83,476.39 L1073.56,476.36 L1076.29,476.33 L1079.02,476.29 L1081.76,476.26 L1084.49,476.23 L1087.22,476.20 L1089.95,476.17 L1092.68,476.15 L1095.41,476.12 L1098.15,476.10 L1100.88,476.07 L1103.61,476.05 L1106.34,476.03 L1109.07,476.00 L1111.80,475.98 L1114.54,475.95 L1117.27,475.93 L1120.00,475.90 L1122.73,475.87 L1125.46,475.84 L1128.19,475.81 L1130.93,475.77 L1133.66,475.74 L1136.39,475.71 L1139.12,475.67 L1141.85,475.64 L1144.59,475.60 L1147.32,475.57 L1150.05,475.53 L1152.78,475.50 L1155.51,475.47 L1158.24,475.43 L1160.98,475.40 L1163.71,475.37 L1166.44,475.33 L1169.17,475.30 L1171.90,475.27 L1174.63,475.23 L1177.37,475.20 L1180.10,475.17 L1182.83,475.13 L1185.56,475.10 L1188.29,475.07 L1191.02,475.04 L1193.75,475.01 L1196.49,474.99 L1199.22,474.96 L1201.95,474.93 L1204.68,474.90 L1207.41,474.87 L1210.15,474.84 L1212.88,474.80 L1215.61,474.75 L1218.34,474.70 L1221.07,474.64 L1223.80,474.58 L1226.54,474.50 L1229.27,474.43 L1232.00,474.35 L1234.73,474.26 L1237.46,474.18 L1240.19,474.10 L1242.92,474.02 L1245.66,473.94 L1248.39,473.87 L1251.12,473.80 L1253.85,473.74 L1256.58,473.69 L1259.32,473.65 L1262.05,473.61 L1264.78,473.58 L1267.51,473.54 L1270.24,473.51 L1272.97,473.46 L1275.71,473.41 L1278.44,473.35 L1281.17,473.28 L1283.90,473.20 L1286.63,473.10 L1289.36,472.99 L1292.10,472.87 L1294.83,472.74 L1297.56,472.60 L1300.29,472.46 L1303.02,472.31 L1305.75,472.16 L1308.49,472.02 L1311.22,471.87 L1313.95,471.73 L1316.68,471.60 L1319.41,471.47 L1322.14,471.35 L1324.88,471.23 L1327.61,471.10 L1330.34,470.98 L1333.07,470.86 L1335.80,470.74 L1338.53,470.62 L1341.27,470.49 L1344.00,470.37 L1346.73,470.24 L1349.46,470.10 L1352.30,469.95 L1355.30,469.80 L1358.42,469.63 L1361.60,469.46 L1364.78,469.28 L1367.90,469.11 L1370.91,468.94 L1373.74,468.78 L1376.35,468.63 L1378.67,468.50 L1380.66,468.39 L1382.24,468.30" fill="none" stroke="#ff0000" stroke-width="5.9"/><path d="M792.20,468.20 L800.75,483.00 L783.65,483.00 Z" fill="#fff" stroke="#ff0000" stroke-width="3.6" stroke-linejoin="round"/><path d="M824.98,468.00 L833.53,482.80 L816.43,482.80 Z" fill="#fff" stroke="#ff0000" stroke-width="3.6" stroke-linejoin="round"/><path d="M857.76,468.00 L866.31,482.80 L849.21,482.80 Z" fill="#fff" stroke="#ff0000" stroke-width="3.6" stroke-linejoin="round"/><path d="M890.54,467.90 L899.09,482.70 L881.99,482.70 Z" fill="#fff" stroke="#ff0000" stroke-width="3.6" stroke-linejoin="round"/><path d="M923.32,467.70 L931.87,482.50 L914.77,482.50 Z" fill="#fff" stroke="#ff0000" stroke-width="3.6" stroke-linejoin="round"/><path d="M956.10,467.50 L964.65,482.30 L947.55,482.30 Z" fill="#fff" stroke="#ff0000" stroke-width="3.6" stroke-linejoin="round"/><path d="M988.88,467.40 L997.43,482.20 L980.33,482.20 Z" fill="#fff" stroke="#ff0000" stroke-width="3.6" stroke-linejoin="round"/><path d="M1021.66,467.20 L1030.21,482.00 L1013.11,482.00 Z" fill="#fff" stroke="#ff0000" stroke-width="3.6" stroke-linejoin="round"/><path d="M1054.44,466.80 L1062.99,481.60 L1045.89,481.60 Z" fill="#fff" stroke="#ff0000" stroke-width="3.6" stroke-linejoin="round"/><path d="M1087.22,466.40 L1095.77,481.20 L1078.67,481.20 Z" fill="#fff" stroke="#ff0000" stroke-width="3.6" stroke-linejoin="round"/><path d="M1120.00,466.10 L1128.55,480.90 L1111.45,480.90 Z" fill="#fff" stroke="#ff0000" stroke-width="3.6" stroke-linejoin="round"/><path d="M1152.78,465.70 L1161.33,480.50 L1144.23,480.50 Z" fill="#fff" stroke="#ff0000" stroke-width="3.6" stroke-linejoin="round"/><path d="M1185.56,465.30 L1194.11,480.10 L1177.01,480.10 Z" fill="#fff" stroke="#ff0000" stroke-width="3.6" stroke-linejoin="round"/><path d="M1218.34,464.90 L1226.89,479.70 L1209.79,479.70 Z" fill="#fff" stroke="#ff0000" stroke-width="3.6" stroke-linejoin="round"/><path d="M1251.12,464.00 L1259.67,478.80 L1242.57,478.80 Z" fill="#fff" stroke="#ff0000" stroke-width="3.6" stroke-linejoin="round"/><path d="M1283.90,463.40 L1292.45,478.20 L1275.35,478.20 Z" fill="#fff" stroke="#ff0000" stroke-width="3.6" stroke-linejoin="round"/><path d="M1316.68,461.80 L1325.23,476.60 L1308.13,476.60 Z" fill="#fff" stroke="#ff0000" stroke-width="3.6" stroke-linejoin="round"/><path d="M1349.46,460.30 L1358.01,475.10 L1340.91,475.10 Z" fill="#fff" stroke="#ff0000" stroke-width="3.6" stroke-linejoin="round"/><path d="M1382.24,458.50 L1390.79,473.30 L1373.69,473.30 Z" fill="#fff" stroke="#ff0000" stroke-width="3.6" stroke-linejoin="round"/></g><text transform="translate(781.30,496.00) scale(0.962,1)" text-anchor="end" class="tk">0.0</text><text transform="translate(781.30,412.60) scale(0.962,1)" text-anchor="end" class="tk">0.1</text><text transform="translate(781.30,329.20) scale(0.962,1)" text-anchor="end" class="tk">0.2</text><text transform="translate(781.30,245.80) scale(0.962,1)" text-anchor="end" class="tk">0.3</text><text transform="translate(781.30,163.30) scale(0.962,1)" text-anchor="end" class="tk">0.4</text><text transform="translate(781.30,79.90) scale(0.962,1)" text-anchor="end" class="tk">0.5</text><text transform="translate(795.00,534.70) scale(0.985,1)" text-anchor="middle" class="tk">10.0</text><text transform="translate(941.25,534.70) scale(0.985,1)" text-anchor="middle" class="tk">10.5</text><text transform="translate(1087.50,534.70) scale(0.985,1)" text-anchor="middle" class="tk">11.0</text><text transform="translate(1233.75,534.70) scale(0.985,1)" text-anchor="middle" class="tk">11.5</text><text transform="translate(1380.00,534.70) scale(0.985,1)" text-anchor="middle" class="tk">12.0</text><text transform="translate(1073.70,575.00) scale(0.990,1)" text-anchor="middle" class="ti">Frequency (GHz)</text><text transform="translate(715.30,277.80) rotate(-90) scale(0.969,1)" text-anchor="middle" class="ti">Absorption</text><line x1="854.3" x2="946.5" y1="106.6" y2="106.6" stroke="#ff0000" stroke-width="6.2"/><path d="M900.60,96.70 L909.60,111.80 L891.60,111.80 Z" fill="#fff" stroke="#ff0000" stroke-width="3.8" stroke-linejoin="round"/><text transform="translate(953.00,119.00) scale(0.963,1)" class="lg">0-element</text><line x1="854.3" x2="946.5" y1="178.0" y2="178.0" stroke="#008000" stroke-width="6.2"/><rect x="895.00" y="172.40" width="11.2" height="11.2" fill="#fff" stroke="#008000" stroke-width="3.7"/><text transform="translate(953.00,191.00) scale(0.980,1)" class="lg">1-element</text><line x1="854.3" x2="946.5" y1="256.0" y2="256.0" stroke="#0000ff" stroke-width="6.2"/><circle cx="900.60" cy="256.30" r="6.1" fill="#fff" stroke="#0000ff" stroke-width="3.1"/><text transform="translate(953.00,268.50) scale(0.986,1)" class="lg">Copper</text></svg></body></html>
